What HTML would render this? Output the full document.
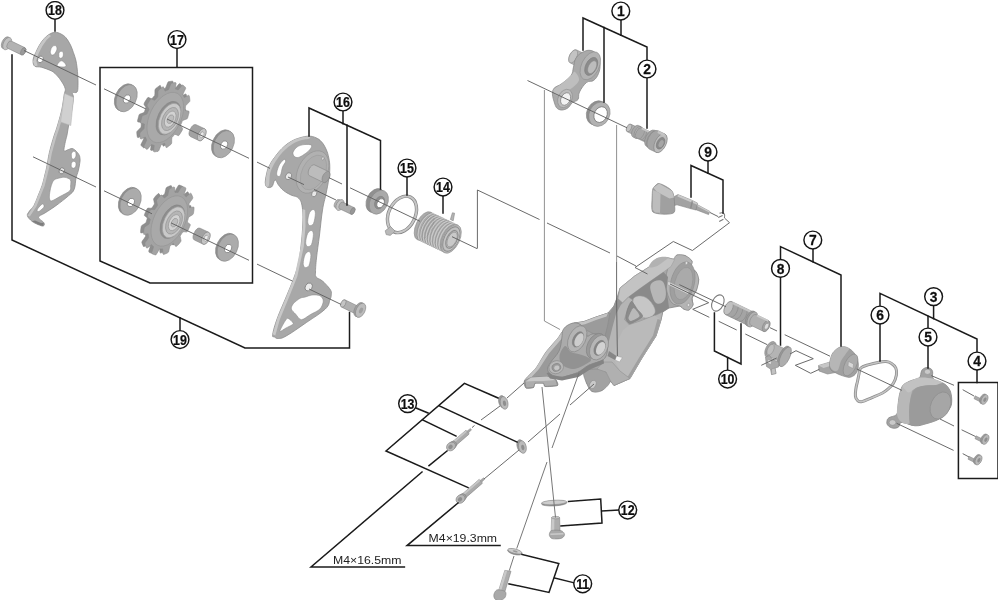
<!DOCTYPE html>
<html lang="en"><head><meta charset="utf-8"><title>Rear derailleur exploded view</title>
<style>html,body{margin:0;padding:0;background:#fff}body{width:1000px;height:600px;overflow:hidden}svg{display:block}</style>
</head><body>
<svg width="1000" height="600" viewBox="0 0 1000 600">
<defs>
<filter id="soft" x="0" y="0" width="100%" height="100%"><feGaussianBlur stdDeviation="0.45"/></filter>
<linearGradient id="gA" x1="0" y1="0" x2="1" y2="1"><stop offset="0" stop-color="#c4c4c4"/><stop offset="1" stop-color="#9a9a9a"/></linearGradient>
<linearGradient id="gB" x1="0" y1="0" x2="1" y2="0"><stop offset="0" stop-color="#b9b9b9"/><stop offset="1" stop-color="#8f8f8f"/></linearGradient>
<linearGradient id="gC" x1="0" y1="0" x2="0" y2="1"><stop offset="0" stop-color="#c9c9c9"/><stop offset="1" stop-color="#8c8c8c"/></linearGradient>
</defs>

<rect width="1000" height="600" fill="#fff"/>
<g filter="url(#soft)">
<g id="thin-under" fill="none" stroke="#858585" stroke-width="0.9"><path d="M544.4,90.0 L544.4,321.0 L560.0,329.5"/><path d="M616.6,125.0 L616.6,262.0"/></g>
<g id="parts"><path d="M55.0,32.3 C57.2,32.2 59.0,33.0 61.0,34.0 C63.0,35.0 64.3,35.8 66.0,37.8 C67.7,39.8 69.1,42.3 70.5,45.0 C71.9,47.7 72.4,49.8 73.4,52.5 C74.4,55.2 75.1,57.3 75.8,60.0 C76.5,62.7 76.6,64.3 77.0,67.2 C77.4,70.1 77.6,72.6 77.8,76.0 C78.0,79.4 78.1,82.6 78.0,85.5 C77.9,88.4 78.0,90.6 77.0,92.0 C76.0,93.4 73.2,91.8 72.5,93.0 C71.8,94.2 73.7,94.1 73.4,98.4 C73.1,102.7 71.5,111.8 70.6,116.7 C69.7,121.6 69.4,121.6 68.7,125.0 C68.0,128.4 67.7,131.6 67.0,135.0 C66.3,138.4 65.5,140.4 65.0,143.3 C64.5,146.2 63.5,149.9 64.1,151.0 C64.7,152.1 66.8,149.9 68.5,149.5 C70.2,149.1 71.4,148.0 73.3,148.9 C75.2,149.8 77.6,152.5 78.8,154.4 C80.0,156.3 79.8,157.3 80.0,159.0 C80.2,160.7 80.0,161.3 79.7,163.5 C79.4,165.7 78.9,168.3 78.2,171.0 C77.5,173.7 76.7,174.9 76.0,178.2 C75.3,181.5 75.5,186.0 74.2,189.2 C72.9,192.4 72.1,192.6 68.7,195.6 C65.3,198.6 60.3,202.5 55.9,205.7 C51.5,208.9 48.1,210.9 44.9,213.0 C41.7,215.1 38.7,215.4 38.5,217.2 C38.3,219.0 43.0,221.2 43.9,222.8 C44.8,224.4 44.3,225.7 43.2,226.0 C42.1,226.3 40.1,225.4 38.0,224.5 C35.9,223.6 33.9,222.9 32.0,221.3 C30.1,219.7 27.9,217.7 27.4,215.8 C26.9,213.9 28.3,212.9 29.5,211.0 C30.7,209.1 32.3,208.4 33.9,205.7 C35.5,202.9 36.5,199.7 38.0,196.0 C39.5,192.3 40.9,189.2 42.1,185.5 C43.3,181.8 43.8,179.4 44.6,176.0 C45.4,172.6 45.8,171.5 46.7,167.2 C47.6,162.9 48.1,158.2 49.4,152.5 C50.7,146.8 52.6,140.5 54.0,136.0 C55.4,131.5 55.4,132.4 56.8,127.8 C58.2,123.2 60.1,117.1 61.5,111.0 C62.9,104.9 63.5,98.9 64.2,94.7 C64.9,90.5 65.8,91.0 65.1,88.3 C64.4,85.6 62.3,82.5 60.6,80.0 C58.9,77.5 57.7,76.2 56.0,74.5 C54.3,72.8 54.1,72.2 51.4,70.9 C48.7,69.6 44.3,68.0 41.3,67.2 C38.3,66.4 36.4,67.3 34.9,66.3 C33.4,65.3 33.2,63.4 33.0,61.7 C32.8,60.0 33.3,58.7 33.8,57.0 C34.3,55.3 34.8,54.7 35.8,52.5 C36.8,50.3 38.0,47.5 39.5,45.0 C41.0,42.5 42.3,40.7 44.0,38.8 C45.7,36.9 47.0,35.7 49.0,34.5 C51.0,33.3 52.8,32.4 55.0,32.3Z" fill="#a7a7a7" stroke="#8b8b8b" stroke-width="0.8" stroke-linejoin="round" />
<path d="M49.0,34.5 L44.0,38.8 L39.5,45.0 L35.8,52.5 L33.0,61.7 L34.9,66.3 L37.6,65.6 L36.2,60.5 L38.6,53.5 L42.4,46.0 L46.6,40.0 L51.0,36.0Z" fill="#c6c6c6" stroke="none" stroke-width="0.6" stroke-linejoin="round" />
<path d="M64.2,94.7 L61.5,111.0 L56.8,127.8 L54.0,136.0 L49.4,152.5 L46.7,167.2 L42.1,185.5 L33.9,205.7 L27.4,215.8 L29.8,216.6 L36.4,206.5 L44.6,186.0 L49.2,167.5 L51.9,153.0 L56.5,136.6 L59.3,128.3 L64.0,111.4 L66.5,95.3Z" fill="#c3c3c3" stroke="none" stroke-width="0.6" stroke-linejoin="round" />
<path d="M64.6,93.4 L73.6,97.6 L70.8,125.5 L60.6,122.0Z" fill="#d0d0d0" stroke="#b5b5b5" stroke-width="0.5" stroke-linejoin="round" />
<ellipse cx="40.4" cy="59.4" rx="2.7" ry="3.5" transform="rotate(26 40.4 59.4)" fill="#fff" stroke="#7d7d7d" stroke-width="0.8" />
<path d="M52.2,47.0 C53.2,45.9 53.4,45.5 54.6,45.6 C55.8,45.7 56.4,45.5 56.8,47.2 C57.2,48.9 57.0,49.7 56.0,51.8 C55.0,53.9 54.4,54.6 53.0,55.0 C51.6,55.4 51.2,54.8 50.6,53.4 C50.0,52.0 50.4,51.3 50.8,49.6 C51.2,47.9 51.2,48.1 52.2,47.0Z" fill="#fff" stroke="#8a8a8a" stroke-width="0.6" stroke-linejoin="round" />
<path d="M59.6,52.0 C60.5,51.1 61.2,51.1 62.2,51.6 C63.2,52.1 63.4,52.4 63.4,54.0 C63.4,55.6 63.2,56.6 62.2,57.6 C61.2,58.6 60.5,58.5 59.6,57.8 C58.7,57.1 58.8,56.5 58.8,55.0 C58.8,53.5 58.7,52.9 59.6,52.0Z" fill="#fff" stroke="#8a8a8a" stroke-width="0.6" stroke-linejoin="round" />
<path d="M60.6,61.0 C62.0,60.4 63.1,61.4 64.2,62.4 C65.3,63.4 66.4,65.1 66.0,66.0 C65.6,66.9 63.8,67.1 62.0,67.0 C60.2,66.9 57.5,66.8 57.2,65.6 C56.9,64.4 59.2,61.6 60.6,61.0Z" fill="#fff" stroke="#8a8a8a" stroke-width="0.6" stroke-linejoin="round" />
<path d="M72.2,152.2 C73.1,151.1 73.8,151.1 74.8,151.6 C75.8,152.1 75.9,152.3 76.0,154.0 C76.1,155.7 76.0,156.7 75.0,158.0 C74.0,159.3 73.4,159.4 72.4,158.8 C71.4,158.2 71.5,157.4 71.4,155.6 C71.3,153.8 71.3,153.3 72.2,152.2Z" fill="#fff" stroke="#8a8a8a" stroke-width="0.6" stroke-linejoin="round" />
<path d="M72.2,162.0 C73.2,161.1 74.0,161.1 75.0,161.8 C76.0,162.5 76.1,163.0 76.0,164.6 C75.9,166.2 75.7,167.0 74.6,167.8 C73.5,168.6 72.9,168.3 72.0,167.6 C71.1,166.9 71.1,166.5 71.2,165.0 C71.3,163.5 71.2,162.9 72.2,162.0Z" fill="#fff" stroke="#8a8a8a" stroke-width="0.6" stroke-linejoin="round" />
<ellipse cx="61.8" cy="170.8" rx="2.6" ry="3.2" transform="rotate(26 61.8 170.8)" fill="#e4e4e4" stroke="#7d7d7d" stroke-width="0.8" />
<path d="M54.0,180.0 C55.2,178.9 57.9,178.4 59.5,178.0 C61.1,177.6 63.4,177.0 65.0,177.3 C66.7,177.6 69.7,178.7 70.5,180.0 C71.3,181.3 70.7,184.3 70.6,186.0 C70.5,187.7 71.2,189.4 69.6,191.0 C68.0,192.6 62.7,195.0 60.0,196.5 C57.3,198.0 52.9,200.8 51.3,201.0 C49.7,201.2 49.6,199.0 49.4,197.5 C49.2,196.0 49.7,192.8 50.0,191.0 C50.3,189.2 50.7,187.2 51.3,185.5 C51.9,183.8 52.8,181.1 54.0,180.0Z" fill="#fff" stroke="#8a8a8a" stroke-width="0.6" stroke-linejoin="round" />
<path d="M40.3,205.7 C41.5,204.5 42.3,203.8 43.0,204.0 C43.7,204.2 44.3,205.6 44.0,206.7 C43.7,207.8 42.6,208.5 41.5,209.5 C40.4,210.5 39.3,211.5 38.4,211.6 C37.5,211.7 36.8,211.0 37.2,209.8 C37.6,208.6 39.1,206.9 40.3,205.7Z" fill="#fff" stroke="#8a8a8a" stroke-width="0.6" stroke-linejoin="round" />
<path d="M32.0,221.3 L38.0,224.5 L43.2,226.0 L43.9,222.8 L41.0,223.0 L35.0,220.5Z" fill="#7e7e7e" stroke="none" stroke-width="0.6" stroke-linejoin="round" />
<ellipse cx="5.6" cy="42.8" rx="3.6" ry="6.4" transform="rotate(26 5.6 42.8)" fill="#a9a9a9" stroke="#8a8a8a" stroke-width="0.6" />
<ellipse cx="7.2" cy="43.6" rx="3.8" ry="6.6" transform="rotate(26 7.2 43.6)" fill="#c1c1c1" stroke="#8a8a8a" stroke-width="0.6" />
<path d="M11.3,41.1 L25.0,47.7 A2.2,4.0 26 0 1 21.5,54.9 L7.7,48.3 A2.2,4.0 26 0 1 11.3,41.1Z" fill="#b2b2b2" stroke="#858585" stroke-width="0.6" stroke-linejoin="round" />
<ellipse cx="23.2" cy="51.3" rx="2.2" ry="4.0" transform="rotate(26 23.2 51.3)" fill="#9a9a9a" stroke="#858585" stroke-width="0.6" />
<ellipse cx="125.0" cy="97.4" rx="9.6" ry="14.4" transform="rotate(26 125.0 97.4)" fill="#8f8f8f" stroke="#858585" stroke-width="0.6" />
<ellipse cx="126.6" cy="98.2" rx="9.6" ry="14.4" transform="rotate(26 126.6 98.2)" fill="#ababab" stroke="#8a8a8a" stroke-width="0.6" />
<ellipse cx="126.9" cy="99.0" rx="3.2" ry="4.4" transform="rotate(26 126.9 99.0)" fill="#fff" stroke="#7c7c7c" stroke-width="0.7" />
<path d="M177.6,123.5 L178.3,125.1 L179.6,127.1 L179.4,128.4 L178.8,129.5 L178.2,130.5 L177.6,131.5 L176.9,132.5 L176.3,133.5 L175.5,134.3 L173.6,133.5 L172.0,132.7 L171.3,133.4 L170.7,134.1 L170.1,134.8 L169.5,135.5 L168.9,136.1 L168.7,138.3 L168.7,141.5 L168.1,142.8 L167.3,143.5 L166.4,144.2 L165.6,144.8 L164.8,145.4 L164.0,146.0 L163.2,146.2 L162.3,143.9 L161.6,141.9 L160.9,142.1 L160.2,142.5 L159.5,142.8 L158.9,143.0 L158.2,143.3 L157.2,145.6 L155.9,149.0 L155.0,150.0 L154.2,150.1 L153.4,150.2 L152.7,150.3 L151.9,150.4 L151.1,150.4 L150.5,150.0 L150.9,146.9 L151.2,144.1 L150.7,143.8 L150.1,143.7 L149.6,143.5 L149.0,143.3 L148.5,143.1 L147.0,144.8 L144.7,147.6 L143.8,148.0 L143.2,147.5 L142.6,147.1 L142.1,146.6 L141.6,146.0 L141.1,145.5 L140.9,144.6 L142.4,141.5 L143.7,138.7 L143.4,138.0 L143.1,137.4 L142.9,136.8 L142.6,136.2 L142.4,135.6 L140.7,136.3 L138.1,137.7 L137.4,137.3 L137.2,136.4 L137.0,135.5 L136.9,134.6 L136.8,133.6 L136.7,132.7 L136.9,131.5 L139.1,129.2 L141.0,127.2 L141.1,126.3 L141.2,125.4 L141.2,124.5 L141.3,123.6 L141.4,122.7 L140.1,122.3 L137.8,121.9 L137.5,120.9 L137.7,119.8 L138.0,118.7 L138.3,117.6 L138.6,116.4 L138.9,115.3 L139.5,114.2 L141.9,113.3 L143.9,112.6 L144.4,111.7 L144.7,110.8 L145.1,109.9 L145.5,109.0 L146.0,108.1 L145.3,106.5 L144.0,104.5 L144.2,103.2 L144.8,102.1 L145.4,101.1 L146.0,100.1 L146.7,99.1 L147.3,98.1 L148.1,97.3 L150.0,98.1 L151.6,98.9 L152.3,98.2 L152.9,97.5 L153.5,96.8 L154.1,96.1 L154.7,95.5 L154.9,93.3 L154.9,90.1 L155.5,88.8 L156.3,88.1 L157.2,87.4 L158.0,86.8 L158.8,86.2 L159.6,85.6 L160.4,85.4 L161.3,87.7 L162.0,89.7 L162.7,89.5 L163.4,89.1 L164.1,88.8 L164.7,88.6 L165.4,88.3 L166.4,86.0 L167.7,82.6 L168.6,81.6 L169.4,81.5 L170.2,81.4 L170.9,81.3 L171.7,81.2 L172.5,81.2 L173.1,81.6 L172.7,84.7 L172.4,87.5 L172.9,87.8 L173.5,87.9 L174.0,88.1 L174.6,88.3 L175.1,88.5 L176.6,86.8 L178.9,84.0 L179.8,83.6 L180.4,84.1 L181.0,84.5 L181.5,85.0 L182.0,85.6 L182.5,86.1 L182.7,87.0 L181.2,90.1 L179.9,92.9 L180.2,93.6 L180.5,94.2 L180.7,94.8 L181.0,95.4 L181.2,96.0 L182.9,95.3 L185.5,93.9 L186.2,94.3 L186.4,95.2 L186.6,96.1 L186.7,97.0 L186.8,98.0 L186.9,98.9 L186.7,100.1 L184.5,102.4 L182.6,104.4 L182.5,105.3 L182.4,106.2 L182.4,107.1 L182.3,108.0 L182.2,108.9 L183.5,109.3 L185.8,109.7 L186.1,110.7 L185.9,111.8 L185.6,112.9 L185.3,114.0 L185.0,115.2 L184.7,116.3 L184.1,117.4 L181.7,118.3 L179.7,119.0 L179.2,119.9 L178.9,120.8 L178.5,121.7 L178.1,122.6Z" fill="#8e8e8e" stroke="#7f7f7f" stroke-width="0.5" stroke-linejoin="round" />
<path d="M180.6,124.9 L181.3,126.5 L182.6,128.5 L182.4,129.8 L181.8,130.9 L181.2,131.9 L180.6,132.9 L179.9,133.9 L179.3,134.9 L178.5,135.7 L176.6,134.9 L175.0,134.1 L174.3,134.8 L173.7,135.5 L173.1,136.2 L172.5,136.9 L171.9,137.5 L171.7,139.7 L171.7,142.9 L171.1,144.2 L170.3,144.9 L169.4,145.6 L168.6,146.2 L167.8,146.8 L167.0,147.4 L166.2,147.6 L165.3,145.3 L164.6,143.3 L163.9,143.5 L163.2,143.9 L162.5,144.2 L161.9,144.4 L161.2,144.7 L160.2,147.0 L158.9,150.4 L158.0,151.4 L157.2,151.5 L156.4,151.6 L155.7,151.7 L154.9,151.8 L154.1,151.8 L153.5,151.4 L153.9,148.3 L154.2,145.5 L153.7,145.2 L153.1,145.1 L152.6,144.9 L152.0,144.7 L151.5,144.5 L150.0,146.2 L147.7,149.0 L146.8,149.4 L146.2,148.9 L145.6,148.5 L145.1,148.0 L144.6,147.4 L144.1,146.9 L143.9,146.0 L145.4,142.9 L146.7,140.1 L146.4,139.4 L146.1,138.8 L145.9,138.2 L145.6,137.6 L145.4,137.0 L143.7,137.7 L141.1,139.1 L140.4,138.7 L140.2,137.8 L140.0,136.9 L139.9,136.0 L139.8,135.0 L139.7,134.1 L139.9,132.9 L142.1,130.6 L144.0,128.6 L144.1,127.7 L144.2,126.8 L144.2,125.9 L144.3,125.0 L144.4,124.1 L143.1,123.7 L140.8,123.3 L140.5,122.3 L140.7,121.2 L141.0,120.1 L141.3,119.0 L141.6,117.8 L141.9,116.7 L142.5,115.6 L144.9,114.7 L146.9,114.0 L147.4,113.1 L147.7,112.2 L148.1,111.3 L148.5,110.4 L149.0,109.5 L148.3,107.9 L147.0,105.9 L147.2,104.6 L147.8,103.5 L148.4,102.5 L149.0,101.5 L149.7,100.5 L150.3,99.5 L151.1,98.7 L153.0,99.5 L154.6,100.3 L155.3,99.6 L155.9,98.9 L156.5,98.2 L157.1,97.5 L157.7,96.9 L157.9,94.7 L157.9,91.5 L158.5,90.2 L159.3,89.5 L160.2,88.8 L161.0,88.2 L161.8,87.6 L162.6,87.0 L163.4,86.8 L164.3,89.1 L165.0,91.1 L165.7,90.9 L166.4,90.5 L167.1,90.2 L167.7,90.0 L168.4,89.7 L169.4,87.4 L170.7,84.0 L171.6,83.0 L172.4,82.9 L173.2,82.8 L173.9,82.7 L174.7,82.6 L175.5,82.6 L176.1,83.0 L175.7,86.1 L175.4,88.9 L175.9,89.2 L176.5,89.3 L177.0,89.5 L177.6,89.7 L178.1,89.9 L179.6,88.2 L181.9,85.4 L182.8,85.0 L183.4,85.5 L184.0,85.9 L184.5,86.4 L185.0,87.0 L185.5,87.5 L185.7,88.4 L184.2,91.5 L182.9,94.3 L183.2,95.0 L183.5,95.6 L183.7,96.2 L184.0,96.8 L184.2,97.4 L185.9,96.7 L188.5,95.3 L189.2,95.7 L189.4,96.6 L189.6,97.5 L189.7,98.4 L189.8,99.4 L189.9,100.3 L189.7,101.5 L187.5,103.8 L185.6,105.8 L185.5,106.7 L185.4,107.6 L185.4,108.5 L185.3,109.4 L185.2,110.3 L186.5,110.7 L188.8,111.1 L189.1,112.1 L188.9,113.2 L188.6,114.3 L188.3,115.4 L188.0,116.6 L187.7,117.7 L187.1,118.8 L184.7,119.7 L182.7,120.4 L182.2,121.3 L181.9,122.2 L181.5,123.1 L181.1,124.0Z" fill="#a3a3a3" stroke="#8a8a8a" stroke-width="0.6" stroke-linejoin="round" />
<ellipse cx="165.3" cy="117.5" rx="15.6" ry="27.0" transform="rotate(26 165.3 117.5)" fill="#a9a9a9" stroke="#959595" stroke-width="0.6" />
<ellipse cx="168.4" cy="118.2" rx="10.6" ry="18.0" transform="rotate(26 168.4 118.2)" fill="#8d8d8d" stroke="#858585" stroke-width="0.5" />
<ellipse cx="169.6" cy="118.8" rx="9.6" ry="16.6" transform="rotate(26 169.6 118.8)" fill="#c9c9c9" stroke="#9d9d9d" stroke-width="0.6" />
<ellipse cx="170.0" cy="119.0" rx="7.2" ry="12.4" transform="rotate(26 170.0 119.0)" fill="#b5b5b5" stroke="#909090" stroke-width="0.6" />
<ellipse cx="170.2" cy="119.1" rx="5.0" ry="8.6" transform="rotate(26 170.2 119.1)" fill="#d2d2d2" stroke="#959595" stroke-width="0.6" />
<ellipse cx="170.4" cy="119.2" rx="2.8" ry="4.6" transform="rotate(26 170.4 119.2)" fill="#bdbdbd" stroke="#8a8a8a" stroke-width="0.5" />
<path d="M196.1,124.7 L204.7,128.8 A3.6,6.6 26 0 1 198.9,140.6 L190.3,136.5 A3.6,6.6 26 0 1 196.1,124.7Z" fill="#a2a2a2" stroke="#858585" stroke-width="0.6" stroke-linejoin="round" />
<ellipse cx="201.8" cy="134.7" rx="3.6" ry="6.6" transform="rotate(26 201.8 134.7)" fill="#c6c6c6" stroke="#858585" stroke-width="0.6" />
<ellipse cx="202.0" cy="134.8" rx="1.9" ry="3.2" transform="rotate(19 202.0 134.8)" fill="#e9e9e9" stroke="#888" stroke-width="0.5" />
<ellipse cx="222.2" cy="143.4" rx="9.6" ry="14.4" transform="rotate(26 222.2 143.4)" fill="#8f8f8f" stroke="#858585" stroke-width="0.6" />
<ellipse cx="223.8" cy="144.2" rx="9.6" ry="14.4" transform="rotate(26 223.8 144.2)" fill="#ababab" stroke="#8a8a8a" stroke-width="0.6" />
<ellipse cx="224.1" cy="145.0" rx="3.2" ry="4.4" transform="rotate(26 224.1 145.0)" fill="#fff" stroke="#7c7c7c" stroke-width="0.7" />
<ellipse cx="129.0" cy="200.9" rx="9.6" ry="14.4" transform="rotate(26 129.0 200.9)" fill="#8f8f8f" stroke="#858585" stroke-width="0.6" />
<ellipse cx="130.6" cy="201.7" rx="9.6" ry="14.4" transform="rotate(26 130.6 201.7)" fill="#ababab" stroke="#8a8a8a" stroke-width="0.6" />
<ellipse cx="130.9" cy="202.5" rx="3.2" ry="4.4" transform="rotate(26 130.9 202.5)" fill="#fff" stroke="#7c7c7c" stroke-width="0.7" />
<path d="M185.1,228.7 L184.6,229.8 L183.6,230.6 L181.3,230.4 L179.8,230.5 L179.3,231.4 L178.7,232.2 L178.2,233.0 L177.7,233.8 L177.1,234.7 L177.6,237.0 L178.1,239.6 L177.4,240.7 L176.7,241.6 L176.0,242.5 L175.2,243.3 L174.4,244.1 L173.6,244.9 L172.7,245.0 L171.3,243.1 L170.3,242.0 L169.6,242.6 L168.9,243.1 L168.3,243.6 L167.6,244.0 L166.9,244.6 L166.3,247.4 L165.5,250.7 L164.7,251.4 L163.9,251.8 L163.0,252.2 L162.2,252.5 L161.4,252.8 L160.6,253.1 L159.9,252.5 L159.8,249.4 L159.6,247.5 L158.9,247.5 L158.3,247.6 L157.7,247.6 L157.1,247.6 L156.4,247.7 L154.9,250.4 L153.1,253.3 L152.2,253.5 L151.6,253.3 L150.9,253.1 L150.2,252.8 L149.6,252.6 L149.0,252.2 L148.7,251.1 L149.9,247.6 L150.5,245.3 L150.1,244.9 L149.7,244.5 L149.2,244.1 L148.9,243.6 L148.4,243.2 L146.4,245.0 L144.0,246.8 L143.4,246.4 L143.1,245.7 L142.7,245.0 L142.4,244.2 L142.1,243.4 L141.8,242.6 L142.1,241.2 L144.3,238.3 L145.6,236.2 L145.5,235.5 L145.4,234.7 L145.3,233.9 L145.2,233.1 L145.1,232.3 L143.1,232.7 L140.8,233.0 L140.6,232.1 L140.6,231.0 L140.7,229.9 L140.8,228.9 L141.0,227.8 L141.1,226.7 L141.8,225.4 L144.4,223.8 L146.1,222.6 L146.3,221.7 L146.5,220.7 L146.8,219.8 L147.1,218.9 L147.3,218.0 L145.9,216.8 L144.3,215.5 L144.5,214.3 L145.0,213.2 L145.5,212.1 L146.0,211.0 L146.5,209.9 L147.0,208.8 L148.0,208.0 L150.3,208.2 L151.8,208.1 L152.3,207.2 L152.9,206.4 L153.4,205.6 L153.9,204.8 L154.5,203.9 L154.0,201.6 L153.5,199.0 L154.2,197.9 L154.9,197.0 L155.6,196.1 L156.4,195.3 L157.2,194.5 L158.0,193.7 L158.9,193.6 L160.3,195.5 L161.3,196.6 L162.0,196.0 L162.7,195.5 L163.3,195.0 L164.0,194.6 L164.7,194.0 L165.3,191.2 L166.1,187.9 L166.9,187.2 L167.7,186.8 L168.6,186.4 L169.4,186.1 L170.2,185.8 L171.0,185.5 L171.7,186.1 L171.8,189.2 L172.0,191.1 L172.7,191.1 L173.3,191.0 L173.9,191.0 L174.5,191.0 L175.2,190.9 L176.7,188.2 L178.5,185.3 L179.4,185.1 L180.0,185.3 L180.7,185.5 L181.4,185.8 L182.0,186.0 L182.6,186.4 L182.9,187.5 L181.7,191.0 L181.1,193.3 L181.5,193.7 L181.9,194.1 L182.4,194.5 L182.7,195.0 L183.2,195.4 L185.2,193.6 L187.6,191.8 L188.2,192.2 L188.5,192.9 L188.9,193.6 L189.2,194.4 L189.5,195.2 L189.8,196.0 L189.5,197.4 L187.3,200.3 L186.0,202.4 L186.1,203.1 L186.2,203.9 L186.3,204.7 L186.4,205.5 L186.5,206.3 L188.5,205.9 L190.8,205.6 L191.0,206.5 L191.0,207.6 L190.9,208.7 L190.8,209.7 L190.6,210.8 L190.5,211.9 L189.8,213.2 L187.2,214.8 L185.5,216.0 L185.3,216.9 L185.1,217.9 L184.8,218.8 L184.5,219.7 L184.3,220.6 L185.7,221.8 L187.3,223.1 L187.1,224.3 L186.6,225.4 L186.1,226.5 L185.6,227.6Z" fill="#8e8e8e" stroke="#7f7f7f" stroke-width="0.5" stroke-linejoin="round" />
<path d="M188.1,230.1 L187.6,231.2 L186.6,232.0 L184.3,231.8 L182.8,231.9 L182.3,232.8 L181.7,233.6 L181.2,234.4 L180.7,235.2 L180.1,236.1 L180.6,238.4 L181.1,241.0 L180.4,242.1 L179.7,243.0 L179.0,243.9 L178.2,244.7 L177.4,245.5 L176.6,246.3 L175.7,246.4 L174.3,244.5 L173.3,243.4 L172.6,244.0 L171.9,244.5 L171.3,245.0 L170.6,245.4 L169.9,246.0 L169.3,248.8 L168.5,252.1 L167.7,252.8 L166.9,253.2 L166.0,253.6 L165.2,253.9 L164.4,254.2 L163.6,254.5 L162.9,253.9 L162.8,250.8 L162.6,248.9 L161.9,248.9 L161.3,249.0 L160.7,249.0 L160.1,249.0 L159.4,249.1 L157.9,251.8 L156.1,254.7 L155.2,254.9 L154.6,254.7 L153.9,254.5 L153.2,254.2 L152.6,254.0 L152.0,253.6 L151.7,252.5 L152.9,249.0 L153.5,246.7 L153.1,246.3 L152.7,245.9 L152.2,245.5 L151.9,245.0 L151.4,244.6 L149.4,246.4 L147.0,248.2 L146.4,247.8 L146.1,247.1 L145.7,246.4 L145.4,245.6 L145.1,244.8 L144.8,244.0 L145.1,242.6 L147.3,239.7 L148.6,237.6 L148.5,236.9 L148.4,236.1 L148.3,235.3 L148.2,234.5 L148.1,233.7 L146.1,234.1 L143.8,234.4 L143.6,233.5 L143.6,232.4 L143.7,231.3 L143.8,230.3 L144.0,229.2 L144.1,228.1 L144.8,226.8 L147.4,225.2 L149.1,224.0 L149.3,223.1 L149.5,222.1 L149.8,221.2 L150.1,220.3 L150.3,219.4 L148.9,218.2 L147.3,216.9 L147.5,215.7 L148.0,214.6 L148.5,213.5 L149.0,212.4 L149.5,211.3 L150.0,210.2 L151.0,209.4 L153.3,209.6 L154.8,209.5 L155.3,208.6 L155.9,207.8 L156.4,207.0 L156.9,206.2 L157.5,205.3 L157.0,203.0 L156.5,200.4 L157.2,199.3 L157.9,198.4 L158.6,197.5 L159.4,196.7 L160.2,195.9 L161.0,195.1 L161.9,195.0 L163.3,196.9 L164.3,198.0 L165.0,197.4 L165.7,196.9 L166.3,196.4 L167.0,196.0 L167.7,195.4 L168.3,192.6 L169.1,189.3 L169.9,188.6 L170.7,188.2 L171.6,187.8 L172.4,187.5 L173.2,187.2 L174.0,186.9 L174.7,187.5 L174.8,190.6 L175.0,192.5 L175.7,192.5 L176.3,192.4 L176.9,192.4 L177.5,192.4 L178.2,192.3 L179.7,189.6 L181.5,186.7 L182.4,186.5 L183.0,186.7 L183.7,186.9 L184.4,187.2 L185.0,187.4 L185.6,187.8 L185.9,188.9 L184.7,192.4 L184.1,194.7 L184.5,195.1 L184.9,195.5 L185.4,195.9 L185.7,196.4 L186.2,196.8 L188.2,195.0 L190.6,193.2 L191.2,193.6 L191.5,194.3 L191.9,195.0 L192.2,195.8 L192.5,196.6 L192.8,197.4 L192.5,198.8 L190.3,201.7 L189.0,203.8 L189.1,204.5 L189.2,205.3 L189.3,206.1 L189.4,206.9 L189.5,207.7 L191.5,207.3 L193.8,207.0 L194.0,207.9 L194.0,209.0 L193.9,210.1 L193.8,211.1 L193.6,212.2 L193.5,213.3 L192.8,214.6 L190.2,216.2 L188.5,217.4 L188.3,218.3 L188.1,219.3 L187.8,220.2 L187.5,221.1 L187.3,222.0 L188.7,223.2 L190.3,224.5 L190.1,225.7 L189.6,226.8 L189.1,227.9 L188.6,229.0Z" fill="#a3a3a3" stroke="#8a8a8a" stroke-width="0.6" stroke-linejoin="round" />
<ellipse cx="169.3" cy="221.0" rx="15.6" ry="27.0" transform="rotate(26 169.3 221.0)" fill="#a9a9a9" stroke="#959595" stroke-width="0.6" />
<ellipse cx="172.4" cy="221.7" rx="10.6" ry="18.0" transform="rotate(26 172.4 221.7)" fill="#8d8d8d" stroke="#858585" stroke-width="0.5" />
<ellipse cx="173.6" cy="222.3" rx="9.6" ry="16.6" transform="rotate(26 173.6 222.3)" fill="#c9c9c9" stroke="#9d9d9d" stroke-width="0.6" />
<ellipse cx="174.0" cy="222.5" rx="7.2" ry="12.4" transform="rotate(26 174.0 222.5)" fill="#b5b5b5" stroke="#909090" stroke-width="0.6" />
<ellipse cx="174.2" cy="222.6" rx="5.0" ry="8.6" transform="rotate(26 174.2 222.6)" fill="#d2d2d2" stroke="#959595" stroke-width="0.6" />
<ellipse cx="174.4" cy="222.7" rx="2.8" ry="4.6" transform="rotate(26 174.4 222.7)" fill="#bdbdbd" stroke="#8a8a8a" stroke-width="0.5" />
<path d="M200.1,228.2 L208.7,232.3 A3.6,6.6 26 0 1 202.9,244.1 L194.3,240.0 A3.6,6.6 26 0 1 200.1,228.2Z" fill="#a2a2a2" stroke="#858585" stroke-width="0.6" stroke-linejoin="round" />
<ellipse cx="205.8" cy="238.2" rx="3.6" ry="6.6" transform="rotate(26 205.8 238.2)" fill="#c6c6c6" stroke="#858585" stroke-width="0.6" />
<ellipse cx="206.0" cy="238.3" rx="1.9" ry="3.2" transform="rotate(19 206.0 238.3)" fill="#e9e9e9" stroke="#888" stroke-width="0.5" />
<ellipse cx="226.2" cy="246.9" rx="9.6" ry="14.4" transform="rotate(26 226.2 246.9)" fill="#8f8f8f" stroke="#858585" stroke-width="0.6" />
<ellipse cx="227.8" cy="247.7" rx="9.6" ry="14.4" transform="rotate(26 227.8 247.7)" fill="#ababab" stroke="#8a8a8a" stroke-width="0.6" />
<ellipse cx="228.1" cy="248.5" rx="3.2" ry="4.4" transform="rotate(26 228.1 248.5)" fill="#fff" stroke="#7c7c7c" stroke-width="0.7" />
<path d="M265.5,185.0 C264.6,182.0 266.1,176.1 267.0,172.0 C267.9,167.9 268.5,167.4 270.0,164.5 C271.5,161.6 272.1,160.7 274.5,157.5 C276.9,154.3 278.7,151.7 282.0,148.5 C285.3,145.3 287.4,143.6 291.0,141.5 C294.6,139.4 296.4,138.9 300.0,137.8 C303.6,136.7 305.8,136.2 309.0,136.2 C312.2,136.2 313.5,136.7 316.0,137.8 C318.5,138.9 319.5,139.6 321.5,141.8 C323.5,144.0 324.5,145.8 326.0,149.0 C327.5,152.2 328.0,154.2 328.8,158.0 C329.6,161.8 329.8,163.8 329.8,168.0 C329.8,172.2 329.6,173.8 328.8,179.0 C328.0,184.2 327.3,187.8 326.0,194.0 C324.7,200.2 323.8,201.8 322.5,210.0 C321.2,218.2 320.7,225.4 319.5,235.0 C318.3,244.6 317.3,250.6 316.5,258.0 C315.7,265.4 315.6,268.2 315.5,272.0 C315.4,275.8 315.1,275.4 316.2,277.0 C317.3,278.6 319.2,278.7 321.0,280.0 C322.8,281.3 323.4,281.6 325.3,283.7 C327.2,285.8 329.5,288.0 330.7,290.3 C331.9,292.6 331.3,293.1 331.2,295.0 C331.1,296.9 331.2,296.9 330.0,299.7 C328.8,302.5 330.0,304.5 325.3,309.0 C320.6,313.5 314.4,317.0 306.7,322.3 C299.0,327.6 292.3,332.5 286.7,335.7 C281.1,338.9 281.1,338.2 278.7,338.5 C276.3,338.8 275.7,337.8 274.5,337.0 C273.3,336.2 272.1,338.0 272.7,334.3 C273.3,330.6 274.5,326.0 277.3,318.3 C280.1,310.6 283.2,304.2 286.7,295.7 C290.2,287.2 292.3,282.4 294.7,275.7 C297.1,269.0 297.4,267.9 298.7,262.0 C300.0,256.1 300.2,253.2 301.0,246.0 C301.8,238.8 302.4,233.4 302.7,226.0 C303.0,218.6 303.2,214.5 302.5,209.0 C301.8,203.5 301.3,201.3 299.0,198.5 C296.7,195.7 294.1,196.6 291.0,195.0 C287.9,193.4 286.0,192.5 283.5,190.5 C281.0,188.5 280.2,187.1 278.5,185.0 C276.8,182.9 276.4,179.6 275.0,180.0 C273.6,180.4 273.4,186.0 271.5,187.0 C269.6,188.0 266.4,188.0 265.5,185.0Z" fill="#a8a8a8" stroke="#8a8a8a" stroke-width="0.8" stroke-linejoin="round" />
<path d="M265.5,185.0 C265.2,182.7 266.2,175.4 267.0,172.0 C267.8,168.6 268.8,166.9 270.0,164.5 C271.2,162.1 272.5,160.2 274.5,157.5 C276.5,154.8 279.2,151.2 282.0,148.5 C284.8,145.8 288.0,143.3 291.0,141.5 C294.0,139.7 297.0,138.7 300.0,137.8 C303.0,136.9 307.4,136.1 309.0,136.2 C310.6,136.3 310.8,137.7 309.5,138.4 C308.2,139.1 303.8,139.3 301.0,140.2 C298.2,141.1 295.3,142.2 292.5,144.0 C289.7,145.8 286.6,148.2 284.0,150.8 C281.4,153.4 278.9,156.9 277.0,159.5 C275.1,162.1 274.0,164.1 272.8,166.5 C271.6,168.9 270.7,170.8 270.0,174.0 C269.3,177.2 269.6,184.0 268.8,185.8 C268.1,187.6 265.8,187.3 265.5,185.0Z" fill="#c4c4c4" stroke="none" stroke-width="0.6" stroke-linejoin="round" />
<path d="M302.5,209.0 L302.7,226.0 L301.0,246.0 L294.7,275.7 L286.7,295.7 L277.3,318.3 L272.7,334.3 L275.3,335.5 L279.8,319.4 L289.2,296.8 L297.3,276.5 L303.8,246.5 L305.5,226.0 L305.2,210.0Z" fill="#c8c8c8" stroke="none" stroke-width="0.6" stroke-linejoin="round" />
<path d="M293.0,152.5 C293.4,150.9 295.2,148.3 297.0,147.0 C298.8,145.7 301.6,144.9 304.0,144.6 C306.4,144.3 310.6,144.3 311.5,145.2 C312.4,146.1 310.8,148.4 309.5,150.0 C308.2,151.6 305.8,153.3 304.0,154.5 C302.2,155.7 300.1,157.1 298.5,157.4 C296.9,157.8 295.4,157.4 294.5,156.6 C293.6,155.8 292.6,154.1 293.0,152.5Z" fill="#fff" stroke="#8c8c8c" stroke-width="0.6" stroke-linejoin="round" />
<path d="M276.8,172.0 C277.2,170.1 278.3,166.6 279.5,164.5 C280.7,162.4 283.0,160.0 284.0,159.5 C285.0,159.0 285.8,160.2 285.6,161.5 C285.4,162.8 283.5,164.7 282.6,167.0 C281.7,169.3 281.3,173.9 280.4,175.4 C279.5,176.9 278.0,176.6 277.4,176.0 C276.8,175.4 276.4,173.9 276.8,172.0Z" fill="#fff" stroke="#8c8c8c" stroke-width="0.6" stroke-linejoin="round" />
<ellipse cx="312.5" cy="172.0" rx="14.6" ry="22.5" transform="rotate(26 312.5 172.0)" fill="#b1b1b1" stroke="#939393" stroke-width="0.6" />
<ellipse cx="313.5" cy="172.5" rx="11.5" ry="18.5" transform="rotate(26 313.5 172.5)" fill="#adadad" stroke="#9a9a9a" stroke-width="0.5" />
<path d="M314.6,164.9 L328.6,171.6 A3.3,6.0 26 0 1 323.3,182.4 L309.4,175.7 A3.3,6.0 26 0 1 314.6,164.9Z" fill="#bcbcbc" stroke="#858585" stroke-width="0.6" stroke-linejoin="round" />
<ellipse cx="326.0" cy="177.0" rx="3.3" ry="6.0" transform="rotate(26 326.0 177.0)" fill="#a0a0a0" stroke="#858585" stroke-width="0.6" />
<ellipse cx="288.5" cy="176.2" rx="2.8" ry="3.6" transform="rotate(26 288.5 176.2)" fill="#e8e8e8" stroke="#7d7d7d" stroke-width="0.7" />
<ellipse cx="314.2" cy="193.8" rx="2.4" ry="3.1" transform="rotate(26 314.2 193.8)" fill="#e8e8e8" stroke="#7d7d7d" stroke-width="0.7" />
<ellipse cx="322.8" cy="158.5" rx="1.2" ry="1.6" transform="rotate(26 322.8 158.5)" fill="#ddd" stroke="#888" stroke-width="0.5" />
<path d="M313.3,209.5 C314.3,209.6 315.4,211.0 315.4,213.3 C315.4,215.6 314.5,221.5 313.5,223.5 C312.5,225.5 310.3,225.9 309.3,225.5 C308.3,225.1 307.7,223.4 307.7,221.3 C307.7,219.2 308.6,214.7 309.5,212.7 C310.4,210.7 312.3,209.4 313.3,209.5Z" fill="#fff" stroke="#8c8c8c" stroke-width="0.6" stroke-linejoin="round" />
<path d="M311.3,230.5 C312.3,230.6 313.4,232.0 313.4,234.3 C313.4,236.6 312.5,242.5 311.5,244.5 C310.5,246.5 308.3,246.9 307.3,246.5 C306.3,246.1 305.7,244.4 305.7,242.3 C305.7,240.2 306.6,235.7 307.5,233.7 C308.4,231.7 310.3,230.4 311.3,230.5Z" fill="#fff" stroke="#8c8c8c" stroke-width="0.6" stroke-linejoin="round" />
<path d="M308.8,251.5 C309.8,251.6 310.9,253.0 310.9,255.3 C310.9,257.6 310.0,263.5 309.0,265.5 C308.0,267.5 305.8,267.9 304.8,267.5 C303.8,267.1 303.2,265.4 303.2,263.3 C303.2,261.2 304.1,256.7 305.0,254.7 C305.9,252.7 307.8,251.4 308.8,251.5Z" fill="#fff" stroke="#8c8c8c" stroke-width="0.6" stroke-linejoin="round" />
<ellipse cx="308.7" cy="287.0" rx="3.3" ry="4.2" transform="rotate(26 308.7 287.0)" fill="#ececec" stroke="#7d7d7d" stroke-width="0.8" />
<path d="M293.3,303.7 C294.6,302.1 298.2,299.3 300.0,298.3 C301.8,297.3 303.5,297.5 305.3,297.0 C307.1,296.5 309.8,295.2 312.0,295.0 C314.2,294.8 318.3,294.8 320.0,295.7 C321.7,296.6 323.3,299.0 323.3,301.0 C323.3,303.0 321.9,307.0 320.0,309.0 C318.1,311.0 313.3,312.9 310.5,314.5 C307.7,316.1 303.6,319.8 301.3,319.7 C299.1,319.6 297.0,315.6 295.5,314.0 C294.0,312.4 291.6,310.5 291.3,309.0 C291.0,307.5 292.0,305.3 293.3,303.7Z" fill="#fff" stroke="#8c8c8c" stroke-width="0.6" stroke-linejoin="round" />
<path d="M287.3,318.3 C288.7,317.8 293.5,322.6 293.3,323.7 C293.1,324.8 287.6,327.1 286.0,328.0 C284.4,328.9 280.5,331.7 280.0,331.7 C279.5,331.7 280.4,329.3 281.3,327.7 C282.2,326.1 285.9,318.8 287.3,318.3Z" fill="#fff" stroke="#8c8c8c" stroke-width="0.6" stroke-linejoin="round" />
<ellipse cx="337.5" cy="203.8" rx="2.8" ry="4.6" transform="rotate(26 337.5 203.8)" fill="#b5b5b5" stroke="#858585" stroke-width="0.6" />
<ellipse cx="340.0" cy="205.0" rx="3.6" ry="5.8" transform="rotate(26 340.0 205.0)" fill="#c3c3c3" stroke="#858585" stroke-width="0.6" />
<path d="M342.6,202.1 L354.3,207.7 A2.0,3.7 26 0 1 351.1,214.3 L339.4,208.7 A2.0,3.7 26 0 1 342.6,202.1Z" fill="#adadad" stroke="#858585" stroke-width="0.6" stroke-linejoin="round" />
<ellipse cx="352.7" cy="211.0" rx="2.0" ry="3.7" transform="rotate(26 352.7 211.0)" fill="#979797" stroke="#858585" stroke-width="0.6" />
<path d="M345.3,300.0 L359.2,306.7 A2.2,4.0 26 0 1 355.7,313.9 L341.7,307.2 A2.2,4.0 26 0 1 345.3,300.0Z" fill="#b0b0b0" stroke="#858585" stroke-width="0.6" stroke-linejoin="round" />
<ellipse cx="343.3" cy="303.5" rx="2.3" ry="4.0" transform="rotate(26 343.3 303.5)" fill="#c4c4c4" stroke="#858585" stroke-width="0.6" />
<ellipse cx="359.0" cy="309.6" rx="4.4" ry="7.6" transform="rotate(26 359.0 309.6)" fill="#a1a1a1" stroke="#858585" stroke-width="0.6" />
<ellipse cx="360.6" cy="310.3" rx="4.4" ry="7.6" transform="rotate(26 360.6 310.3)" fill="#bcbcbc" stroke="#858585" stroke-width="0.6" />
<ellipse cx="361.0" cy="310.5" rx="1.8" ry="3.0" transform="rotate(26 361.0 310.5)" fill="#a0a0a0" stroke="none" stroke-width="0.6" />
<ellipse cx="375.6" cy="200.6" rx="8.8" ry="12.6" transform="rotate(26 375.6 200.6)" fill="#909090" stroke="#858585" stroke-width="0.6" />
<ellipse cx="378.8" cy="202.2" rx="8.8" ry="12.6" transform="rotate(26 378.8 202.2)" fill="#a9a9a9" stroke="#8a8a8a" stroke-width="0.6" />
<ellipse cx="379.6" cy="202.6" rx="4.6" ry="6.6" transform="rotate(26 379.6 202.6)" fill="#8d8d8d" stroke="#808080" stroke-width="0.6" />
<ellipse cx="380.6" cy="203.2" rx="3.3" ry="4.8" transform="rotate(26 380.6 203.2)" fill="#fff" stroke="#7c7c7c" stroke-width="0.7" />
<ellipse cx="402" cy="214.4" rx="13.2" ry="19.2" transform="rotate(26 402 214.4)" fill="none" stroke="#868686" stroke-width="3.4"/>
<ellipse cx="402" cy="214.4" rx="13.2" ry="19.2" transform="rotate(26 402 214.4)" fill="none" stroke="#c6c6c6" stroke-width="2.0"/>
<path d="M390.5,226.5 L385.2,230.8 L386.2,234.6 L390.2,235.4 L395.2,231.2Z" fill="#b9b9b9" stroke="#858585" stroke-width="0.6" stroke-linejoin="round" />
<path d="M431.0,212.2 L458.0,225.1 L444.5,252.8 L417.4,239.8Z" fill="#b3b3b3" stroke="none" stroke-width="0.6" stroke-linejoin="round" />
<ellipse cx="424.2" cy="226.0" rx="8.2" ry="15.4" transform="rotate(26 424.2 226.0)" fill="#ababab" stroke="#8c8c8c" stroke-width="0.6" />
<path d="M433.6,213.4 A8.2,15.4 26 0 0 420.1,241.1" fill="none" stroke="#969696" stroke-width="0.8"/>
<path d="M434.8,214.0 A8.2,15.4 26 0 0 421.3,241.7" fill="none" stroke="#cfcfcf" stroke-width="0.9"/>
<path d="M436.2,214.7 A8.2,15.4 26 0 0 422.7,242.3" fill="none" stroke="#969696" stroke-width="0.8"/>
<path d="M437.4,215.3 A8.2,15.4 26 0 0 423.9,243.0" fill="none" stroke="#cfcfcf" stroke-width="0.9"/>
<path d="M438.8,215.9 A8.2,15.4 26 0 0 425.3,243.6" fill="none" stroke="#969696" stroke-width="0.8"/>
<path d="M440.1,216.5 A8.2,15.4 26 0 0 426.6,244.2" fill="none" stroke="#cfcfcf" stroke-width="0.9"/>
<path d="M441.4,217.2 A8.2,15.4 26 0 0 427.9,244.9" fill="none" stroke="#969696" stroke-width="0.8"/>
<path d="M442.7,217.8 A8.2,15.4 26 0 0 429.2,245.5" fill="none" stroke="#cfcfcf" stroke-width="0.9"/>
<path d="M444.0,218.4 A8.2,15.4 26 0 0 430.5,246.1" fill="none" stroke="#969696" stroke-width="0.8"/>
<path d="M445.3,219.0 A8.2,15.4 26 0 0 431.8,246.7" fill="none" stroke="#cfcfcf" stroke-width="0.9"/>
<path d="M446.6,219.7 A8.2,15.4 26 0 0 433.1,247.4" fill="none" stroke="#969696" stroke-width="0.8"/>
<path d="M447.9,220.3 A8.2,15.4 26 0 0 434.4,248.0" fill="none" stroke="#cfcfcf" stroke-width="0.9"/>
<path d="M449.3,220.9 A8.2,15.4 26 0 0 435.8,248.6" fill="none" stroke="#969696" stroke-width="0.8"/>
<path d="M450.5,221.5 A8.2,15.4 26 0 0 437.0,249.2" fill="none" stroke="#cfcfcf" stroke-width="0.9"/>
<path d="M451.9,222.2 A8.2,15.4 26 0 0 438.4,249.9" fill="none" stroke="#969696" stroke-width="0.8"/>
<path d="M453.1,222.8 A8.2,15.4 26 0 0 439.6,250.5" fill="none" stroke="#cfcfcf" stroke-width="0.9"/>
<path d="M454.5,223.4 A8.2,15.4 26 0 0 441.0,251.1" fill="none" stroke="#969696" stroke-width="0.8"/>
<path d="M455.7,224.0 A8.2,15.4 26 0 0 442.2,251.7" fill="none" stroke="#cfcfcf" stroke-width="0.9"/>
<path d="M457.1,224.7 A8.2,15.4 26 0 0 443.6,252.4" fill="none" stroke="#969696" stroke-width="0.8"/>
<path d="M458.4,225.3 A8.2,15.4 26 0 0 444.9,253.0" fill="none" stroke="#cfcfcf" stroke-width="0.9"/>
<ellipse cx="451.3" cy="239.0" rx="8.2" ry="15.4" transform="rotate(26 451.3 239.0)" fill="#bababa" stroke="#8c8c8c" stroke-width="0.6" />
<ellipse cx="451.3" cy="239.0" rx="7.1" ry="13.2" transform="rotate(26 451.3 239.0)" fill="none" stroke="#8c8c8c" stroke-width="0.9" />
<ellipse cx="451.6" cy="239.2" rx="6.1" ry="11.4" transform="rotate(26 451.6 239.2)" fill="none" stroke="#c6c6c6" stroke-width="0.9" />
<ellipse cx="451.9" cy="239.4" rx="5.1" ry="9.5" transform="rotate(26 451.9 239.4)" fill="none" stroke="#8c8c8c" stroke-width="0.9" />
<ellipse cx="452.1" cy="239.5" rx="4.3" ry="8.0" transform="rotate(26 452.1 239.5)" fill="#c9c9c9" stroke="#8a8a8a" stroke-width="0.6" />
<path d="M450.4,219.5 L452.4,212.8 L454.6,213.2 L453.2,220.8Z" fill="#b4b4b4" stroke="#858585" stroke-width="0.6" stroke-linejoin="round" />
<path d="M576.7,50.0 L589.3,56.1 A4.0,7.2 26 0 1 583.0,69.0 L570.3,63.0 A4.0,7.2 26 0 1 576.7,50.0Z" fill="#b4b4b4" stroke="#8a8a8a" stroke-width="0.6" stroke-linejoin="round" />
<ellipse cx="573.2" cy="56.4" rx="3.6" ry="7.0" transform="rotate(26 573.2 56.4)" fill="#c3c3c3" stroke="#8e8e8e" stroke-width="0.6" />
<path d="M576.0,58.0 C577.9,55.0 580.0,53.5 583.0,52.0 C586.0,50.5 588.2,49.9 591.0,50.5 C593.8,51.1 595.2,52.3 597.0,55.0 C598.8,57.7 599.7,60.3 600.0,64.0 C600.3,67.7 599.8,70.2 598.5,73.5 C597.2,76.8 595.9,78.7 593.5,80.5 C591.1,82.3 589.3,80.2 586.5,82.5 C583.7,84.8 581.2,88.6 579.5,92.0 C577.8,95.4 579.4,97.4 578.0,99.5 C576.6,101.6 574.7,100.7 572.5,102.5 C570.3,104.3 569.7,107.1 567.0,108.5 C564.3,109.9 561.5,110.6 559.0,109.5 C556.5,108.4 555.7,106.9 554.5,103.0 C553.3,99.1 551.5,93.9 553.0,90.0 C554.5,86.1 558.4,86.4 562.0,83.5 C565.6,80.6 568.7,78.8 571.0,75.5 C573.3,72.2 572.5,70.5 573.5,67.0 C574.5,63.5 574.1,61.0 576.0,58.0Z" fill="#a9a9a9" stroke="#8a8a8a" stroke-width="0.8" stroke-linejoin="round" />
<path d="M553.5,90.0 C554.3,88.0 559.1,85.9 562.0,83.5 C564.9,81.1 568.8,77.4 571.0,75.5 C573.2,73.6 573.7,71.2 575.0,72.0 C576.3,72.8 579.5,77.3 579.0,80.0 C578.5,82.7 574.7,85.8 572.0,88.0 C569.3,90.2 565.5,91.8 563.0,93.0 C560.5,94.2 558.6,96.0 557.0,95.5 C555.4,95.0 552.7,92.0 553.5,90.0Z" fill="#bebebe" stroke="none" stroke-width="0.6" stroke-linejoin="round" />
<ellipse cx="590.3" cy="65.8" rx="8.8" ry="15.0" transform="rotate(26 590.3 65.8)" fill="#b3b3b3" stroke="#8e8e8e" stroke-width="0.6" />
<ellipse cx="591.2" cy="66.4" rx="5.6" ry="9.6" transform="rotate(26 591.2 66.4)" fill="#8b8b8b" stroke="#7e7e7e" stroke-width="0.6" />
<ellipse cx="592.2" cy="67.2" rx="3.8" ry="6.8" transform="rotate(26 592.2 67.2)" fill="#bcbcbc" stroke="#8a8a8a" stroke-width="0.4" />
<ellipse cx="565.0" cy="98.5" rx="6.8" ry="9.6" transform="rotate(26 565.0 98.5)" fill="#bbbbbb" stroke="#8e8e8e" stroke-width="0.6" />
<ellipse cx="565.6" cy="99.0" rx="4.6" ry="6.6" transform="rotate(26 565.6 99.0)" fill="#f2f2f2" stroke="#808080" stroke-width="0.7" />
<ellipse cx="597.0" cy="113.0" rx="10.2" ry="12.6" transform="rotate(26 597.0 113.0)" fill="#8f8f8f" stroke="#858585" stroke-width="0.6" />
<ellipse cx="599.4" cy="114.2" rx="10.2" ry="12.6" transform="rotate(26 599.4 114.2)" fill="#b2b2b2" stroke="#8a8a8a" stroke-width="0.6" />
<ellipse cx="600.6" cy="114.6" rx="6.4" ry="8.2" transform="rotate(26 600.6 114.6)" fill="#fff" stroke="#7c7c7c" stroke-width="0.8" />
<path d="M596.3,109 A6.4,8.2 {ROT} 0 0 598.5,121.6" fill="none" stroke="#9b9b9b" stroke-width="1.8"/>
<path d="M631.0,124.3 L636.9,127.1 A2.3,4.2 26 0 1 633.2,134.6 L627.4,131.8 A2.3,4.2 26 0 1 631.0,124.3Z" fill="#adadad" stroke="#858585" stroke-width="0.6" stroke-linejoin="round" />
<ellipse cx="629.0" cy="127.9" rx="2.3" ry="4.2" transform="rotate(26 629.0 127.9)" fill="#c2c2c2" stroke="#858585" stroke-width="0.6" />
<path d="M638.4,125.4 L641.1,126.7 A3.5,6.4 26 0 1 635.5,138.2 L632.8,136.9 A3.5,6.4 26 0 1 638.4,125.4Z" fill="#a8a8a8" stroke="#858585" stroke-width="0.6" stroke-linejoin="round" />
<ellipse cx="638.3" cy="132.4" rx="3.5" ry="6.4" transform="rotate(26 638.3 132.4)" fill="#b6b6b6" stroke="#858585" stroke-width="0.6" />
<path d="M641.5,127.7 L652.8,133.1 A3.1,5.7 26 0 1 647.8,143.3 L636.5,137.9 A3.1,5.7 26 0 1 641.5,127.7Z" fill="#a7a7a7" stroke="#858585" stroke-width="0.6" stroke-linejoin="round" />
<path d="M643.3,128.6 A3.1,5.7 26 0 1 638.3,138.8" fill="none" stroke="#8d8d8d" stroke-width="0.6"/>
<path d="M645.4,129.6 A3.1,5.7 26 0 1 640.4,139.8" fill="none" stroke="#8d8d8d" stroke-width="0.6"/>
<path d="M647.5,130.5 A3.1,5.7 26 0 1 642.5,140.7" fill="none" stroke="#8d8d8d" stroke-width="0.6"/>
<path d="M649.5,131.5 A3.1,5.7 26 0 1 644.5,141.7" fill="none" stroke="#8d8d8d" stroke-width="0.6"/>
<path d="M651.6,132.5 A3.1,5.7 26 0 1 646.6,142.7" fill="none" stroke="#8d8d8d" stroke-width="0.6"/>
<path d="M642.0,127.6 L652.8,132.8 L652.2,134.4 L641.4,129.2Z" fill="#c6c6c6" stroke="none" stroke-width="0.6" stroke-linejoin="round" />
<path d="M654.3,130.2 L656.7,131.4 A5.0,9.0 26 0 1 648.8,147.5 L646.5,146.4 A5.0,9.0 26 0 1 654.3,130.2Z" fill="#a3a3a3" stroke="#858585" stroke-width="0.6" stroke-linejoin="round" />
<ellipse cx="652.7" cy="139.4" rx="5.0" ry="9.0" transform="rotate(26 652.7 139.4)" fill="#b2b2b2" stroke="#858585" stroke-width="0.6" />
<path d="M658.1,130.7 L664.9,134.0 A5.6,10.2 26 0 1 656.0,152.3 L649.1,149.0 A5.6,10.2 26 0 1 658.1,130.7Z" fill="#a5a5a5" stroke="#858585" stroke-width="0.6" stroke-linejoin="round" />
<ellipse cx="660.5" cy="143.2" rx="5.6" ry="10.2" transform="rotate(26 660.5 143.2)" fill="#bcbcbc" stroke="#858585" stroke-width="0.6" />
<path d="M658.2,130.7 L665.1,134.0 L664.3,136.4 L657.4,133.1Z" fill="#c4c4c4" stroke="none" stroke-width="0.6" stroke-linejoin="round" />
<ellipse cx="660.6" cy="143.3" rx="3.7" ry="6.2" transform="rotate(26 660.6 143.3)" fill="#8a8a8a" stroke="#7d7d7d" stroke-width="0.6" />
<ellipse cx="661.1" cy="143.7" rx="2.2" ry="3.8" transform="rotate(26 661.1 143.7)" fill="#a6a6a6" stroke="none" stroke-width="0.6" />
<path d="M696.4,204.2 L709.8,211.4 L708.6,214.6 L695.2,209.4Z" fill="#a3a3a3" stroke="#858585" stroke-width="0.6" stroke-linejoin="round" />
<path d="M696.4,204.2 L709.8,211.4 L709.4,212.4 L696.0,205.6Z" fill="#cccccc" stroke="none" stroke-width="0.6" stroke-linejoin="round" />
<path d="M674.5,196.4 L678.0,194.6 L692.2,200.4 L697.6,203.2 L696.0,210.0 L690.4,208.6 L677.0,204.8 L674.0,205.6Z" fill="#a2a2a2" stroke="#858585" stroke-width="0.6" stroke-linejoin="round" />
<path d="M678.0,194.6 L692.2,200.4 L697.6,203.2 L697.2,204.8 L691.6,202.4 L677.4,196.6Z" fill="#c9c9c9" stroke="none" stroke-width="0.6" stroke-linejoin="round" />
<path d="M691.6,201.0 L693.0,201.6 L691.4,208.8 L690.0,208.4Z" fill="#8c8c8c" stroke="none" stroke-width="0.6" stroke-linejoin="round" />
<path d="M653.5,187.7 C654.1,186.8 655.1,185.7 656.0,185.0 C656.9,184.3 657.3,183.2 659.0,183.5 C660.7,183.8 663.8,185.2 666.0,186.5 C668.2,187.8 670.7,189.2 672.0,191.0 C673.3,192.8 673.6,195.2 674.0,197.5 C674.4,199.8 674.6,202.5 674.6,205.0 C674.6,207.5 675.5,211.0 674.0,212.5 C672.5,214.0 668.7,214.1 665.5,214.2 C662.3,214.3 657.2,213.8 655.0,213.0 C652.8,212.2 652.5,212.2 652.0,209.7 C651.5,207.2 652.0,201.2 652.1,198.0 C652.2,194.8 652.3,192.2 652.5,190.5 C652.7,188.8 652.9,188.6 653.5,187.7Z" fill="#a0a0a0" stroke="#858585" stroke-width="0.7" stroke-linejoin="round" />
<path d="M653.5,187.7 L659.0,183.5 L672.0,191.0 L674.0,197.5 L669.5,198.5 L656.5,191.5Z" fill="#c3c3c3" stroke="none" stroke-width="0.6" stroke-linejoin="round" />
<path d="M656.5,191.5 L660.5,193.7 L660.0,212.8 L655.0,212.5 L652.6,209.5 L652.8,190.0Z" fill="#bdbdbd" stroke="none" stroke-width="0.6" stroke-linejoin="round" />
<path d="M719.5,213.2 C723.5,211.6 725.8,214.4 724.4,218.2 M718.2,217.6 L722.6,215.6 M719.2,221.6 L723.4,219.2" fill="none" stroke="#7a7a7a" stroke-width="1.1"/>
<path d="M563.0,331.0 C561.0,332.6 560.0,335.6 558.0,338.0 C556.0,340.4 548.6,348.5 546.0,352.0 C543.4,355.5 538.5,364.7 536.0,368.0 C533.5,371.3 525.7,378.2 524.5,380.5 C523.3,382.8 525.0,387.2 526.0,388.0 C527.0,388.8 532.5,388.1 533.5,387.5 C534.5,386.9 533.8,383.7 535.0,383.2 C536.2,382.7 542.3,382.8 543.5,383.2 C544.7,383.6 543.4,386.2 545.0,386.5 C546.6,386.8 556.2,386.3 557.5,385.5 C558.8,384.7 557.0,381.2 556.0,380.0 C555.0,378.8 548.5,376.4 549.0,375.5 C549.5,374.6 557.0,374.4 560.0,372.0 C563.0,369.6 572.1,359.3 575.0,355.0 C577.9,350.7 585.0,338.6 585.0,335.0 C585.0,331.4 577.6,324.5 575.0,324.0 C572.4,323.5 565.0,329.4 563.0,331.0Z" fill="#9a9a9a" stroke="#828282" stroke-width="0.7" stroke-linejoin="round" />
<path d="M563.0,331.0 L558.0,338.0 L546.0,352.0 L536.0,368.0 L524.5,380.5 L527.5,381.5 L539.0,369.0 L549.0,353.5 L561.0,339.5 L566.0,332.0Z" fill="#c2c2c2" stroke="none" stroke-width="0.6" stroke-linejoin="round" />
<path d="M524.8,380.5 L526.0,388.0 L533.5,387.5 L535.0,383.2 L543.5,383.2 L545.0,386.5 L557.5,385.5 L556.0,380.0 L547.0,376.5 L531.0,377.5Z" fill="#adadad" stroke="#7f7f7f" stroke-width="0.6" stroke-linejoin="round" />
<path d="M531.0,377.5 L547.0,376.5 L556.0,380.0 L543.5,381.0 L535.0,381.0 L526.0,381.5Z" fill="#c9c9c9" stroke="none" stroke-width="0.6" stroke-linejoin="round" />
<path d="M634.7,276.0 L649.0,267.0 L657.0,258.5 L666.7,257.5 L674.7,259.5 L677.0,255.0 L685.0,255.5 L692.0,261.0 L691.0,267.7 L696.0,271.7 L698.7,279.7 L696.5,290.0 L692.0,298.0 L693.0,305.0 L689.0,310.0 L684.0,309.2 L680.0,306.0 L669.0,308.0 L662.7,312.0 L661.0,320.0 L656.0,336.0 L642.0,358.0 L630.0,378.5 L614.0,385.5 L610.5,381.0 L602.0,390.5 L592.0,391.5 L586.5,383.0 L584.0,371.5 L577.0,366.0 L574.0,350.0 L570.0,334.0 L566.0,327.0 L574.0,323.2 L584.0,321.5 L596.0,317.0 L608.0,313.0 L614.0,306.0 L617.0,298.0 L620.0,288.0 L628.0,281.5Z" fill="#a6a6a6" stroke="#858585" stroke-width="0.8" stroke-linejoin="round" />
<path d="M677.0,255.0 C678.8,254.5 682.5,254.5 685.0,255.5 C687.5,256.5 691.0,259.0 692.0,261.0 C693.0,263.0 690.3,265.9 691.0,267.7 C691.7,269.5 694.7,269.7 696.0,271.7 C697.3,273.7 698.6,276.6 698.7,279.7 C698.8,282.8 697.6,286.9 696.5,290.0 C695.4,293.1 692.6,295.5 692.0,298.0 C691.4,300.5 693.5,303.0 693.0,305.0 C692.5,307.0 690.5,309.3 689.0,310.0 C687.5,310.7 685.5,309.9 684.0,309.2 C682.5,308.5 682.0,307.0 680.0,306.0 C678.0,305.0 674.2,305.3 672.0,303.0 C669.8,300.7 668.0,296.3 667.0,292.0 C666.0,287.7 665.6,281.7 666.0,277.0 C666.4,272.3 668.2,267.1 669.5,264.0 C670.8,260.9 672.8,260.0 674.0,258.5 C675.2,257.0 675.2,255.5 677.0,255.0Z" fill="#b4b4b4" stroke="#8a8a8a" stroke-width="0.7" stroke-linejoin="round" />
<ellipse cx="682.5" cy="283.0" rx="11.8" ry="21.5" transform="rotate(14 682.5 283.0)" fill="#9f9f9f" stroke="#8d8d8d" stroke-width="0.6" />
<ellipse cx="683.5" cy="283.5" rx="8.8" ry="16.5" transform="rotate(14 683.5 283.5)" fill="#aaaaaa" stroke="#949494" stroke-width="0.6" />
<ellipse cx="686.5" cy="263.0" rx="1.3" ry="1.8" transform="rotate(14 686.5 263.0)" fill="#e0e0e0" stroke="#8a8a8a" stroke-width="0.5" />
<ellipse cx="688.5" cy="305.0" rx="1.3" ry="1.8" transform="rotate(14 688.5 305.0)" fill="#e0e0e0" stroke="#8a8a8a" stroke-width="0.5" />
<path d="M668.0,281.2 L689.0,291.4 L688.2,294.6 L667.4,284.6Z" fill="#d6d6d6" stroke="#9a9a9a" stroke-width="0.5" stroke-linejoin="round" />
<path d="M634.7,276.0 L649.0,267.0 L657.0,258.5 L666.7,257.5 L674.7,259.5 L671.0,266.5 L663.5,272.0 L652.0,280.0 L640.0,288.5 L628.5,297.0 L622.5,303.0 L618.0,299.0 L620.0,288.0 L628.0,281.5Z" fill="#c3c3c3" stroke="#9a9a9a" stroke-width="0.5" stroke-linejoin="round" />
<path d="M649.0,267.0 C648.5,266.0 651.2,262.1 653.0,260.5 C654.8,258.9 657.5,257.7 660.0,257.2 C662.5,256.7 667.5,256.7 668.0,257.5 C668.5,258.3 665.0,260.5 663.0,262.0 C661.0,263.5 658.3,265.7 656.0,266.5 C653.7,267.3 649.5,268.0 649.0,267.0Z" fill="#b2b2b2" stroke="none" stroke-width="0.6" stroke-linejoin="round" />
<path d="M628.5,297.0 L640.0,288.5 L652.0,280.0 L663.5,272.0 L668.0,277.0 L666.5,289.0 L668.0,300.0 L669.0,308.0 L662.7,312.0 L655.0,315.5 L644.0,318.5 L640.0,309.0Z" fill="#8a8a8a" stroke="none" stroke-width="0.6" stroke-linejoin="round" />
<path d="M633.0,300.0 C633.6,296.6 637.5,295.7 641.0,296.0 C644.5,296.3 647.7,298.2 650.5,301.5 C653.3,304.8 655.9,309.2 655.0,312.5 C654.1,315.8 649.4,317.9 646.0,318.0 C642.6,318.1 640.6,316.6 638.0,313.0 C635.4,309.4 632.4,303.4 633.0,300.0Z" fill="#c6c6c6" stroke="#9d9d9d" stroke-width="0.5" stroke-linejoin="round" />
<path d="M651.0,284.0 C652.8,281.1 658.1,279.5 661.0,280.5 C663.9,281.5 664.8,285.1 665.5,289.0 C666.2,292.9 666.2,297.1 664.5,300.0 C662.8,302.9 659.5,304.5 657.0,303.5 C654.5,302.5 653.2,298.9 652.0,295.0 C650.8,291.1 649.2,286.9 651.0,284.0Z" fill="#b7b7b7" stroke="none" stroke-width="0.6" stroke-linejoin="round" />
<path d="M617.0,298.0 L622.5,303.0 L628.5,297.0 L633.0,300.0 L627.5,309.0 L624.5,319.5 L629.5,325.0 L640.0,321.5 L655.0,315.5 L662.7,312.0 L661.0,320.0 L656.0,336.0 L642.0,358.0 L630.0,378.5 L614.0,385.5 L610.5,381.0 L606.0,372.0 L600.0,362.0 L607.0,352.0 L604.0,340.0 L607.5,326.0 L610.0,313.0 L614.0,306.0Z" fill="#b5b5b5" stroke="#8d8d8d" stroke-width="0.5" stroke-linejoin="round" />
<path d="M631.5,301.5 C632.7,301.5 636.2,307.8 637.5,309.5 C638.8,311.2 643.3,314.9 642.5,316.5 C641.7,318.1 632.4,323.2 630.5,323.5 C628.6,323.8 626.4,320.6 626.0,319.0 C625.6,317.4 626.9,311.5 627.5,309.5 C628.1,307.5 630.3,301.5 631.5,301.5Z" fill="#8b8b8b" stroke="#7d7d7d" stroke-width="0.6" stroke-linejoin="round" />
<path d="M633.5,308.0 C634.8,307.8 639.8,314.5 639.5,316.0 C639.2,317.5 632.3,320.8 631.0,321.0 C629.7,321.2 628.2,319.0 628.5,317.5 C628.8,316.0 632.2,308.2 633.5,308.0Z" fill="#b9b9b9" stroke="none" stroke-width="0.6" stroke-linejoin="round" />
<path d="M617.0,298.0 L614.0,306.0 L610.0,313.0 L607.5,326.0 L604.0,340.0 L600.0,352.0 L604.5,353.5 L609.0,341.0 L612.5,327.0 L616.0,314.0 L620.5,305.5 L622.5,303.0Z" fill="#949494" stroke="none" stroke-width="0.6" stroke-linejoin="round" />
<path d="M629.5,325.0 L640.0,321.5 L655.0,315.5 L661.0,320.0 L656.0,336.0 L642.0,358.0 L630.0,378.5 L620.0,371.0 L613.0,358.0 L617.5,341.0 L623.0,330.0Z" fill="#bababa" stroke="none" stroke-width="0.6" stroke-linejoin="round" />
<path d="M661.0,320.0 L656.0,336.0 L642.0,358.0 L630.0,378.5 L627.5,377.0 L639.5,357.0 L653.0,335.5 L657.5,319.0Z" fill="#a0a0a0" stroke="none" stroke-width="0.6" stroke-linejoin="round" />
<path d="M616.5,356.0 L622.5,357.5 L619.5,362.0 L615.0,360.0Z" fill="#f4f4f4" stroke="#9a9a9a" stroke-width="0.5" stroke-linejoin="round" />
<path d="M609.0,351.0 L616.5,356.0 L615.0,360.0 L607.5,356.0Z" fill="#868686" stroke="none" stroke-width="0.6" stroke-linejoin="round" />
<path d="M566.0,327.0 L574.0,323.2 L584.0,321.5 L596.0,317.0 L608.0,313.0 L610.0,313.0 L607.5,326.0 L604.0,340.0 L598.0,336.0 L588.0,331.0 L578.0,328.0 L570.0,334.0Z" fill="#9b9b9b" stroke="#858585" stroke-width="0.5" stroke-linejoin="round" />
<path d="M574.0,323.2 L584.0,321.5 L596.0,317.0 L608.0,313.0 L606.5,316.5 L596.0,320.0 L585.0,324.2 L576.0,326.0Z" fill="#c4c4c4" stroke="none" stroke-width="0.6" stroke-linejoin="round" />
<path d="M584.0,371.5 C582.2,373.8 585.2,379.7 586.5,383.0 C587.8,386.3 589.4,390.2 592.0,391.5 C594.6,392.8 598.9,392.2 602.0,390.5 C605.1,388.8 609.8,384.1 610.5,381.0 C611.2,377.9 608.2,374.0 606.0,372.0 C603.8,370.0 600.7,369.1 597.0,369.0 C593.3,368.9 585.8,369.2 584.0,371.5Z" fill="#a2a2a2" stroke="#858585" stroke-width="0.6" stroke-linejoin="round" />
<ellipse cx="592.8" cy="384.5" rx="3.0" ry="4.4" transform="rotate(26 592.8 384.5)" fill="#c9c9c9" stroke="#8a8a8a" stroke-width="0.5" />
<path d="M597.0,369.0 L606.0,372.0 L610.5,381.0 L614.0,385.5 L630.0,378.5 L620.0,371.0 L612.0,362.0 L603.0,362.0Z" fill="#b0b0b0" stroke="#8d8d8d" stroke-width="0.5" stroke-linejoin="round" />
<ellipse cx="574.0" cy="337.5" rx="9.2" ry="14.6" transform="rotate(26 574.0 337.5)" fill="#a2a2a2" stroke="#858585" stroke-width="0.6" />
<path d="M563.0,330.0 C564.3,327.5 566.4,325.8 569.0,324.5 C571.6,323.2 574.3,322.4 577.0,323.0 C579.7,323.6 581.7,325.6 583.5,328.0 C585.3,330.4 585.4,334.9 587.0,336.0 C588.6,337.1 589.6,334.3 592.0,334.0 C594.4,333.7 597.4,333.4 600.0,334.5 C602.6,335.6 604.6,337.3 606.0,340.0 C607.4,342.7 608.0,345.4 607.5,349.0 C607.0,352.6 606.9,356.6 603.5,359.5 C600.1,362.4 593.8,362.6 589.0,365.0 C584.2,367.4 582.5,370.3 577.5,372.5 C572.5,374.7 566.7,376.5 562.0,377.0 C557.3,377.5 554.6,376.4 552.0,375.0 C549.4,373.6 547.9,371.9 547.6,369.6 C547.3,367.3 548.4,365.9 550.5,362.5 C552.6,359.1 556.9,355.4 559.0,351.0 C561.1,346.6 561.1,342.2 561.8,338.4 C562.5,334.5 561.7,332.5 563.0,330.0Z" fill="#ababab" stroke="#858585" stroke-width="0.8" stroke-linejoin="round" />
<ellipse cx="577.2" cy="338.8" rx="8.4" ry="14.0" transform="rotate(26 577.2 338.8)" fill="#b4b4b4" stroke="#868686" stroke-width="0.6" />
<ellipse cx="578.0" cy="339.4" rx="4.9" ry="8.2" transform="rotate(26 578.0 339.4)" fill="#858585" stroke="#7c7c7c" stroke-width="0.5" />
<ellipse cx="579.0" cy="339.9" rx="3.9" ry="7.0" transform="rotate(26 579.0 339.9)" fill="#cdcdcd" stroke="none" stroke-width="0.6" />
<path d="M565.0,346.0 C566.9,345.3 568.2,350.5 571.0,352.0 C573.8,353.5 578.7,353.8 582.0,355.0 C585.3,356.2 590.3,358.0 591.0,359.5 C591.7,361.0 588.8,362.4 586.0,364.0 C583.2,365.6 577.9,368.8 574.0,369.0 C570.1,369.2 564.9,367.2 562.5,365.0 C560.1,362.8 559.1,359.2 559.5,356.0 C559.9,352.8 563.1,346.7 565.0,346.0Z" fill="#929292" stroke="none" stroke-width="0.6" stroke-linejoin="round" />
<ellipse cx="596.0" cy="346.0" rx="8.6" ry="13.4" transform="rotate(26 596.0 346.0)" fill="#999999" stroke="#828282" stroke-width="0.6" />
<ellipse cx="599.0" cy="347.5" rx="8.4" ry="13.2" transform="rotate(26 599.0 347.5)" fill="#b6b6b6" stroke="#868686" stroke-width="0.6" />
<ellipse cx="599.6" cy="347.9" rx="5.0" ry="8.0" transform="rotate(26 599.6 347.9)" fill="#858585" stroke="#7c7c7c" stroke-width="0.5" />
<ellipse cx="600.6" cy="348.4" rx="4.0" ry="6.8" transform="rotate(26 600.6 348.4)" fill="#d2d2d2" stroke="none" stroke-width="0.6" />
<ellipse cx="556.2" cy="367.2" rx="7.4" ry="6.4" transform="rotate(-20 556.2 367.2)" fill="#b8b8b8" stroke="#8a8a8a" stroke-width="0.6" />
<ellipse cx="556.4" cy="367.4" rx="4.4" ry="3.8" transform="rotate(-20 556.4 367.4)" fill="#9a9a9a" stroke="#808080" stroke-width="0.6" />
<ellipse cx="556.8" cy="367.8" rx="3.0" ry="2.6" transform="rotate(-20 556.8 367.8)" fill="#c6c6c6" stroke="#8a8a8a" stroke-width="0.4" />
<path d="M549.0,372.5 L552.0,375.0 L562.0,377.0 L577.5,372.5 L589.0,365.0 L603.5,359.5 L604.0,363.5 L590.0,369.5 L578.5,377.0 L562.0,380.5 L550.0,378.5 L546.5,373.0Z" fill="#848484" stroke="none" stroke-width="0.6" stroke-linejoin="round" />
<ellipse cx="718" cy="303" rx="5.6" ry="8.6" transform="rotate(26 718 302.7)" fill="none" stroke="#7a7a7a" stroke-width="1.1"/>
<path d="M732.0,301.7 L752.2,311.5 A4.0,7.2 26 0 1 745.9,324.4 L725.6,314.7 A4.0,7.2 26 0 1 732.0,301.7Z" fill="#a4a4a4" stroke="#858585" stroke-width="0.6" stroke-linejoin="round" />
<ellipse cx="728.6" cy="308.1" rx="3.9" ry="7.1" transform="rotate(26 728.6 308.1)" fill="#c1c1c1" stroke="#8a8a8a" stroke-width="0.6" />
<path d="M736.9,304.2 A3.9,7.2 26 0 1 730.7,317.0" fill="none" stroke="#8a8a8a" stroke-width="0.7"/>
<path d="M741.4,306.3 A3.9,7.2 26 0 1 735.2,319.1" fill="none" stroke="#8a8a8a" stroke-width="0.7"/>
<path d="M745.9,308.5 A3.9,7.2 26 0 1 739.7,321.3" fill="none" stroke="#8a8a8a" stroke-width="0.7"/>
<path d="M732.6,301.8 L752.0,311.0 L751.4,313.2 L732.0,304.0Z" fill="#c4c4c4" stroke="none" stroke-width="0.6" stroke-linejoin="round" />
<ellipse cx="750.6" cy="318.6" rx="4.4" ry="8.2" transform="rotate(26 750.6 318.6)" fill="#9a9a9a" stroke="#858585" stroke-width="0.6" />
<ellipse cx="752.2" cy="319.4" rx="4.4" ry="8.2" transform="rotate(26 752.2 319.4)" fill="#b1b1b1" stroke="#858585" stroke-width="0.6" />
<path d="M756.1,314.7 L768.7,320.7 A3.2,5.9 26 0 1 763.5,331.4 L750.9,325.3 A3.2,5.9 26 0 1 756.1,314.7Z" fill="#b0b0b0" stroke="#858585" stroke-width="0.6" stroke-linejoin="round" />
<ellipse cx="766.1" cy="326.1" rx="3.2" ry="5.9" transform="rotate(26 766.1 326.1)" fill="#a3a3a3" stroke="#858585" stroke-width="0.6" />
<path d="M757.0,314.6 L768.4,320.0 L768.0,321.8 L756.6,316.4Z" fill="#c8c8c8" stroke="none" stroke-width="0.6" stroke-linejoin="round" />
<ellipse cx="766.6" cy="326.3" rx="1.9" ry="3.3" transform="rotate(26 766.6 326.3)" fill="#ddd" stroke="#888" stroke-width="0.5" />
<ellipse cx="770.5" cy="349.5" rx="4.8" ry="8.6" transform="rotate(26 770.5 349.5)" fill="#a5a5a5" stroke="#858585" stroke-width="0.6" />
<path d="M774.0,343.7 L786.6,349.7 A3.7,6.8 26 0 1 780.6,362.0 L768.0,355.9 A3.7,6.8 26 0 1 774.0,343.7Z" fill="#b4b4b4" stroke="#8a8a8a" stroke-width="0.6" stroke-linejoin="round" />
<ellipse cx="783.6" cy="356.0" rx="4.4" ry="10.8" transform="rotate(26 783.6 356.0)" fill="#979797" stroke="#858585" stroke-width="0.6" />
<ellipse cx="785.2" cy="356.8" rx="4.4" ry="10.8" transform="rotate(26 785.2 356.8)" fill="#adadad" stroke="#858585" stroke-width="0.6" />
<ellipse cx="770.6" cy="349.6" rx="3.0" ry="5.6" transform="rotate(26 770.6 349.6)" fill="#bfbfbf" stroke="#8d8d8d" stroke-width="0.5" />
<path d="M765.5,357.0 L769.5,355.5 L772.0,359.0 L779.0,362.5 L778.5,367.0 L775.0,368.0 L776.0,373.5 L771.5,374.5 L770.5,369.0 L766.5,366.5Z" fill="#a9a9a9" stroke="#858585" stroke-width="0.6" stroke-linejoin="round" />
<path d="M768.0,359.5 L771.5,361.0 L771.0,364.5 L767.5,363.0Z" fill="#e6e6e6" stroke="#8a8a8a" stroke-width="0.4" stroke-linejoin="round" />
<path d="M771.5,369.0 L775.0,368.0 L776.0,373.5 L771.5,374.5Z" fill="#c2c2c2" stroke="#858585" stroke-width="0.4" stroke-linejoin="round" />
<path d="M818.5,365.5 L830.0,362.0 L836.0,366.0 L835.5,372.5 L827.5,374.0 L819.0,371.0Z" fill="#a5a5a5" stroke="#858585" stroke-width="0.6" stroke-linejoin="round" />
<path d="M818.5,365.5 L830.0,362.0 L835.0,364.6 L823.5,368.0Z" fill="#c6c6c6" stroke="none" stroke-width="0.6" stroke-linejoin="round" />
<path d="M831.0,357.0 C832.1,353.4 833.3,352.0 835.5,350.0 C837.7,348.0 839.3,347.1 842.0,346.8 C844.7,346.5 846.3,346.9 849.0,348.5 C851.7,350.1 853.6,351.9 855.5,355.0 C857.4,358.1 858.1,360.5 858.3,364.0 C858.5,367.5 858.0,369.9 856.5,372.5 C855.0,375.1 853.3,376.2 851.0,377.0 C848.7,377.8 848.0,377.3 845.0,376.5 C842.0,375.7 839.0,374.7 836.0,373.0 C833.0,371.3 831.0,371.2 830.0,368.0 C829.0,364.8 829.9,360.6 831.0,357.0Z" fill="#a0a0a0" stroke="#858585" stroke-width="0.7" stroke-linejoin="round" />
<path d="M831.0,357.0 C831.9,354.3 833.7,351.7 835.5,350.0 C837.3,348.3 839.8,347.1 842.0,346.8 C844.2,346.6 848.3,347.4 849.0,348.5 C849.7,349.6 847.3,351.4 846.0,353.5 C844.7,355.6 842.3,358.2 841.0,361.0 C839.7,363.8 839.2,368.4 838.0,370.0 C836.8,371.6 834.8,371.2 833.5,370.5 C832.2,369.8 830.4,368.2 830.0,366.0 C829.6,363.8 830.1,359.7 831.0,357.0Z" fill="#b6b6b6" stroke="none" stroke-width="0.6" stroke-linejoin="round" />
<ellipse cx="850.5" cy="365.0" rx="5.8" ry="11.8" transform="rotate(26 850.5 365.0)" fill="#ababab" stroke="#8a8a8a" stroke-width="0.6" />
<path d="M848.5,361.5 L853.5,364.0 L853.0,368.5 L848.0,366.0Z" fill="#d8d8d8" stroke="#8a8a8a" stroke-width="0.4" stroke-linejoin="round" />
<path d="M860.8,368.0 C862.8,366.1 865.6,365.7 869.0,364.6 C872.4,363.5 874.6,363.0 878.0,362.4 C881.4,361.8 883.3,361.4 886.0,361.6 C888.7,361.8 889.5,362.1 891.5,363.4 C893.5,364.7 894.8,365.7 895.8,368.0 C896.8,370.3 896.9,372.0 896.4,375.0 C895.9,378.0 895.0,380.5 893.4,383.2 C891.8,385.9 890.7,386.6 888.5,388.6 C886.3,390.6 885.8,391.2 882.5,393.0 C879.2,394.8 876.1,395.9 872.0,397.6 C867.9,399.3 864.9,401.0 862.0,401.6 C859.1,402.2 858.8,401.5 857.5,400.4 C856.2,399.3 855.7,398.5 855.4,396.0 C855.1,393.5 855.6,391.0 856.0,388.0 C856.4,385.0 857.0,383.8 857.6,381.0 C858.2,378.2 858.4,376.6 859.0,374.0 C859.6,371.4 858.8,369.9 860.8,368.0Z" fill="none" stroke="#8d8d8d" stroke-width="3.0"/>
<path d="M860.8,368.0 C862.8,366.1 865.6,365.7 869.0,364.6 C872.4,363.5 874.6,363.0 878.0,362.4 C881.4,361.8 883.3,361.4 886.0,361.6 C888.7,361.8 889.5,362.1 891.5,363.4 C893.5,364.7 894.8,365.7 895.8,368.0 C896.8,370.3 896.9,372.0 896.4,375.0 C895.9,378.0 895.0,380.5 893.4,383.2 C891.8,385.9 890.7,386.6 888.5,388.6 C886.3,390.6 885.8,391.2 882.5,393.0 C879.2,394.8 876.1,395.9 872.0,397.6 C867.9,399.3 864.9,401.0 862.0,401.6 C859.1,402.2 858.8,401.5 857.5,400.4 C856.2,399.3 855.7,398.5 855.4,396.0 C855.1,393.5 855.6,391.0 856.0,388.0 C856.4,385.0 857.0,383.8 857.6,381.0 C858.2,378.2 858.4,376.6 859.0,374.0 C859.6,371.4 858.8,369.9 860.8,368.0Z" fill="none" stroke="#c4c4c4" stroke-width="1.5"/>
<path d="M921.5,371.0 C922.4,369.1 922.9,369.1 924.0,368.4 C925.1,367.7 925.7,367.6 927.0,367.6 C928.3,367.6 929.4,367.8 930.5,368.6 C931.6,369.4 932.0,369.5 932.6,371.5 C933.2,373.5 931.4,376.5 933.5,378.8 C935.6,381.1 940.2,381.4 943.2,383.2 C946.2,385.0 946.9,385.7 948.5,388.0 C950.1,390.3 950.6,391.3 951.2,394.5 C951.8,397.7 951.9,400.8 951.5,403.8 C951.1,406.8 950.2,407.5 949.0,409.5 C947.8,411.5 947.4,411.9 945.4,413.8 C943.4,415.7 942.6,417.3 938.9,419.2 C935.2,421.1 931.8,422.2 927.0,423.5 C922.2,424.8 920.0,426.0 915.0,425.8 C910.0,425.6 905.2,422.2 902.0,422.4 C898.8,422.6 900.2,425.5 898.8,426.7 C897.4,427.9 896.6,428.0 895.0,428.2 C893.4,428.4 892.5,428.2 891.0,427.6 C889.5,427.0 888.4,426.2 887.6,425.0 C886.8,423.8 886.6,423.0 886.9,421.5 C887.2,420.0 887.1,419.1 889.0,417.7 C890.9,416.3 894.8,416.7 896.6,414.4 C898.4,412.1 897.6,409.2 898.0,406.0 C898.4,402.8 898.3,401.4 898.8,398.4 C899.3,395.4 899.7,393.6 900.5,391.0 C901.3,388.4 901.5,387.1 903.0,385.3 C904.5,383.5 906.0,383.1 908.0,382.0 C910.0,380.9 910.6,380.8 912.9,380.0 C915.2,379.2 917.7,379.6 919.4,377.8 C921.1,376.0 920.6,372.9 921.5,371.0Z" fill="#a2a2a2" stroke="#858585" stroke-width="0.8" stroke-linejoin="round" />
<path d="M903.0,385.3 C905.4,382.2 910.2,381.2 912.9,380.0 C915.6,378.8 919.2,376.8 919.4,377.8 C919.6,378.8 915.5,382.6 914.0,386.0 C912.5,389.4 911.3,394.0 910.5,398.0 C909.7,402.0 909.2,405.8 909.0,410.0 C908.8,414.2 910.7,420.9 909.5,423.0 C908.3,425.1 904.1,423.8 902.0,422.4 C899.9,421.0 897.5,418.5 897.0,414.5 C896.5,410.5 897.8,403.3 898.8,398.4 C899.8,393.5 900.6,388.4 903.0,385.3Z" fill="#b8b8b8" stroke="none" stroke-width="0.6" stroke-linejoin="round" />
<path d="M903.0,385.3 C904.2,383.6 909.9,381.3 912.9,380.0 C915.9,378.7 917.6,377.7 921.0,377.5 C924.4,377.3 929.8,377.9 933.5,378.8 C937.2,379.8 942.8,382.2 943.2,383.2 C943.6,384.2 938.9,384.6 936.0,385.0 C933.1,385.4 929.3,385.0 926.0,385.5 C922.7,386.0 918.8,386.8 916.0,388.0 C913.2,389.2 910.8,392.2 909.0,392.5 C907.2,392.8 906.5,391.2 905.5,390.0 C904.5,388.8 901.8,387.0 903.0,385.3Z" fill="#c2c2c2" stroke="none" stroke-width="0.6" stroke-linejoin="round" />
<path d="M916.0,388.0 C918.5,386.1 922.7,386.0 926.0,385.5 C929.3,385.0 933.1,385.4 936.0,385.0 C938.9,384.6 941.1,382.7 943.2,383.2 C945.3,383.7 947.2,386.1 948.5,388.0 C949.8,389.9 950.7,391.9 951.2,394.5 C951.7,397.1 951.9,401.3 951.5,403.8 C951.1,406.3 950.0,407.8 949.0,409.5 C948.0,411.2 947.1,412.2 945.4,413.8 C943.7,415.4 942.0,417.6 938.9,419.2 C935.8,420.8 931.0,422.4 927.0,423.5 C923.0,424.6 917.8,425.8 915.0,425.8 C912.2,425.8 911.0,426.1 910.0,423.5 C909.0,420.9 909.1,414.4 909.3,410.0 C909.5,405.6 909.9,400.7 911.0,397.0 C912.1,393.3 913.5,389.9 916.0,388.0Z" fill="#9b9b9b" stroke="none" stroke-width="0.6" stroke-linejoin="round" />
<ellipse cx="940.5" cy="405.5" rx="9.6" ry="14.2" transform="rotate(24 940.5 405.5)" fill="#a6a6a6" stroke="#8e8e8e" stroke-width="0.7" />
<ellipse cx="927.5" cy="371.8" rx="3.2" ry="2.6" transform="rotate(0 927.5 371.8)" fill="#c9c9c9" stroke="#8a8a8a" stroke-width="0.5" />
<ellipse cx="892.5" cy="422.5" rx="3.4" ry="2.8" transform="rotate(0 892.5 422.5)" fill="#c9c9c9" stroke="#8a8a8a" stroke-width="0.5" />
<path d="M975.0,395.8 L982.5,399.4 L981.6,402.6 L974.0,398.7Z" fill="#a9a9a9" stroke="#858585" stroke-width="0.5" stroke-linejoin="round" />
<ellipse cx="983.1" cy="398.9" rx="3.0" ry="5.2" transform="rotate(26 983.1 398.9)" fill="#9c9c9c" stroke="#858585" stroke-width="0.6" />
<ellipse cx="984.5" cy="399.5" rx="3.0" ry="5.2" transform="rotate(26 984.5 399.5)" fill="#b9b9b9" stroke="#858585" stroke-width="0.6" />
<ellipse cx="984.9" cy="399.7" rx="1.4" ry="2.4" transform="rotate(26 984.9 399.7)" fill="#8f8f8f" stroke="none" stroke-width="0.6" />
<path d="M976.0,435.8 L983.5,439.4 L982.6,442.6 L975.0,438.7Z" fill="#a9a9a9" stroke="#858585" stroke-width="0.5" stroke-linejoin="round" />
<ellipse cx="984.1" cy="438.9" rx="3.0" ry="5.2" transform="rotate(26 984.1 438.9)" fill="#9c9c9c" stroke="#858585" stroke-width="0.6" />
<ellipse cx="985.5" cy="439.5" rx="3.0" ry="5.2" transform="rotate(26 985.5 439.5)" fill="#b9b9b9" stroke="#858585" stroke-width="0.6" />
<ellipse cx="985.9" cy="439.7" rx="1.4" ry="2.4" transform="rotate(26 985.9 439.7)" fill="#8f8f8f" stroke="none" stroke-width="0.6" />
<path d="M969.0,456.3 L976.5,459.9 L975.6,463.1 L968.0,459.2Z" fill="#a9a9a9" stroke="#858585" stroke-width="0.5" stroke-linejoin="round" />
<ellipse cx="977.1" cy="459.4" rx="3.0" ry="5.2" transform="rotate(26 977.1 459.4)" fill="#9c9c9c" stroke="#858585" stroke-width="0.6" />
<ellipse cx="978.5" cy="460.0" rx="3.0" ry="5.2" transform="rotate(26 978.5 460.0)" fill="#b9b9b9" stroke="#858585" stroke-width="0.6" />
<ellipse cx="978.9" cy="460.2" rx="1.4" ry="2.4" transform="rotate(26 978.9 460.2)" fill="#8f8f8f" stroke="none" stroke-width="0.6" />
<ellipse cx="502.3" cy="401.7" rx="3.6" ry="6.2" transform="rotate(-12 502.3 401.7)" fill="#9a9a9a" stroke="#858585" stroke-width="0.6" />
<ellipse cx="504.1" cy="402.9" rx="3.8" ry="6.4" transform="rotate(-12 504.1 402.9)" fill="#bababa" stroke="#858585" stroke-width="0.6" />
<ellipse cx="504.5" cy="403.3" rx="1.6" ry="2.8" transform="rotate(-12 504.5 403.3)" fill="#8e8e8e" stroke="none" stroke-width="0.6" />
<ellipse cx="520.6" cy="445.8" rx="3.6" ry="6.2" transform="rotate(-12 520.6 445.8)" fill="#9a9a9a" stroke="#858585" stroke-width="0.6" />
<ellipse cx="522.4" cy="447.0" rx="3.8" ry="6.4" transform="rotate(-12 522.4 447.0)" fill="#bababa" stroke="#858585" stroke-width="0.6" />
<ellipse cx="522.8" cy="447.4" rx="1.6" ry="2.8" transform="rotate(-12 522.8 447.4)" fill="#8e8e8e" stroke="none" stroke-width="0.6" />
<path d="M451.6,442.6 L466.0,430.2 L469.2,434.0 L454.9,446.4Z" fill="#ababab" stroke="#858585" stroke-width="0.6" stroke-linejoin="round" />
<path d="M451.6,442.6 L466.0,430.2 L467.2,431.6 L452.9,444.1Z" fill="#c6c6c6" stroke="none" stroke-width="0.6" stroke-linejoin="round" />
<path d="M466.8,431.2 L470.4,428.4 L471.6,429.8 L468.4,433.0Z" fill="#a5a5a5" stroke="#858585" stroke-width="0.4" stroke-linejoin="round" />
<ellipse cx="452.7" cy="445.1" rx="4.2" ry="3.6" transform="rotate(-41 452.7 445.1)" fill="#a3a3a3" stroke="#858585" stroke-width="0.6" />
<ellipse cx="451.0" cy="446.5" rx="4.8" ry="4.0" transform="rotate(-41 451.0 446.5)" fill="#b7b7b7" stroke="#858585" stroke-width="0.6" />
<ellipse cx="450.5" cy="446.9" rx="2.4" ry="2.0" transform="rotate(-41 450.5 446.9)" fill="#8f8f8f" stroke="none" stroke-width="0.6" />
<path d="M461.1,495.1 L479.2,479.4 L482.5,483.2 L464.4,498.9Z" fill="#ababab" stroke="#858585" stroke-width="0.6" stroke-linejoin="round" />
<path d="M461.1,495.1 L479.2,479.4 L480.5,480.8 L462.4,496.6Z" fill="#c6c6c6" stroke="none" stroke-width="0.6" stroke-linejoin="round" />
<path d="M480.1,480.4 L483.7,477.7 L484.9,479.0 L481.7,482.2Z" fill="#a5a5a5" stroke="#858585" stroke-width="0.4" stroke-linejoin="round" />
<ellipse cx="462.2" cy="497.6" rx="4.2" ry="3.6" transform="rotate(-41 462.2 497.6)" fill="#a3a3a3" stroke="#858585" stroke-width="0.6" />
<ellipse cx="460.5" cy="499.0" rx="4.8" ry="4.0" transform="rotate(-41 460.5 499.0)" fill="#b7b7b7" stroke="#858585" stroke-width="0.6" />
<ellipse cx="460.0" cy="499.4" rx="2.4" ry="2.0" transform="rotate(-41 460.0 499.4)" fill="#8f8f8f" stroke="none" stroke-width="0.6" />
<ellipse cx="554.2" cy="503.2" rx="12.8" ry="2.7" transform="rotate(-3 554.2 503.2)" fill="#8f8f8f" stroke="#7f7f7f" stroke-width="0.6" />
<ellipse cx="554.2" cy="502.4" rx="12.6" ry="2.2" transform="rotate(-3 554.2 502.4)" fill="#cdcdcd" stroke="#8a8a8a" stroke-width="0.5" />
<path d="M551.6,517.5 L559.6,517.5 L560.0,531.0 L551.2,531.0Z" fill="#adadad" stroke="#858585" stroke-width="0.6" stroke-linejoin="round" />
<path d="M551.6,517.5 L554.4,517.5 L554.2,531.0 L551.2,531.0Z" fill="#c9c9c9" stroke="none" stroke-width="0.6" stroke-linejoin="round" />
<ellipse cx="555.6" cy="517.6" rx="4.0" ry="1.3" transform="rotate(0 555.6 517.6)" fill="#c2c2c2" stroke="#858585" stroke-width="0.5" />
<path d="M549.6,533.0 C550.0,532.0 550.3,530.8 552.0,530.4 C553.7,530.0 558.1,530.1 560.0,530.4 C561.9,530.7 562.9,531.6 563.6,532.4 C564.3,533.2 564.8,534.4 564.4,535.4 C564.0,536.4 562.9,537.8 561.0,538.4 C559.1,539.0 554.9,539.1 553.0,538.8 C551.1,538.5 550.4,537.4 549.8,536.4 C549.2,535.4 549.2,534.0 549.6,533.0Z" fill="#a9a9a9" stroke="#858585" stroke-width="0.6" stroke-linejoin="round" />
<path d="M550.4,533.4 L563.4,533.0 L563.6,534.6 L550.4,535.0Z" fill="#cbcbcb" stroke="none" stroke-width="0.6" stroke-linejoin="round" />
<ellipse cx="514.8" cy="551.9" rx="7.4" ry="2.6" transform="rotate(14 514.8 551.9)" fill="#8f8f8f" stroke="#7f7f7f" stroke-width="0.6" />
<ellipse cx="514.9" cy="551.2" rx="7.2" ry="2.2" transform="rotate(14 514.9 551.2)" fill="#cdcdcd" stroke="#8a8a8a" stroke-width="0.5" />
<ellipse cx="515.2" cy="551.4" rx="2.6" ry="0.9" transform="rotate(14 515.2 551.4)" fill="#9a9a9a" stroke="none" stroke-width="0.6" />
<path d="M504.8,570.4 L511.0,571.2 L504.6,592.6 L498.4,591.4Z" fill="#adadad" stroke="#858585" stroke-width="0.6" stroke-linejoin="round" />
<path d="M504.8,570.4 L507.2,570.7 L500.8,591.9 L498.4,591.4Z" fill="#c9c9c9" stroke="none" stroke-width="0.6" stroke-linejoin="round" />
<path d="M494.6,592.6 C495.2,591.6 495.8,590.1 497.4,589.8 C499.0,589.5 502.8,590.4 504.2,591.0 C505.6,591.6 505.9,592.4 506.0,593.6 C506.1,594.8 505.6,596.9 504.6,598.0 C503.6,599.1 501.5,600.2 500.0,600.5 C498.5,600.8 496.4,600.2 495.4,599.5 C494.4,598.8 493.9,597.1 493.8,596.0 C493.7,594.9 494.0,593.6 494.6,592.6Z" fill="#a9a9a9" stroke="#858585" stroke-width="0.6" stroke-linejoin="round" /></g>
<g id="thin" fill="none" stroke="#626262" stroke-width="0.95"><path d="M24.0,50.5 L96.0,85.0"/><path d="M104.0,88.8 L146.0,109.0"/><path d="M167.0,119.0 L249.0,158.3"/><path d="M257.0,162.1 L270.0,168.4"/><path d="M288.0,177.0 L304.0,184.6"/><path d="M314.0,189.4 L336.0,200.0"/><path d="M33.0,156.8 L96.0,187.0"/><path d="M104.0,190.8 L152.0,213.8"/><path d="M171.0,222.9 L249.0,260.3"/><path d="M257.0,264.1 L292.5,281.1"/><path d="M309.0,289.0 L341.0,304.4"/><path d="M329.0,177.7 L342.0,184.0"/><path d="M350.0,187.8 L420.0,221.3"/><path d="M452.0,236.7 L477.0,248.6"/><path d="M477.4,248.6 L477.4,190.0 L539.5,219.5"/><path d="M547.0,223.0 L610.0,253.0"/><path d="M617.0,256.0 L636.0,266.0"/><path d="M527.5,80.5 L627.0,127.8"/><path d="M616.6,262.0 L616.6,300.0 L617.4,356.0"/><path d="M710.0,212.5 L718.0,216.5"/><path d="M725.0,218.5 L729.5,222.7 L692.4,250.5 L673.3,241.5 L635.0,267.5 L647.5,274.0"/><path d="M679.3,284.6 L726.0,306.8"/><path d="M770.0,327.7 L777.0,331.0"/><path d="M784.7,334.7 L830.0,356.2"/><path d="M856.7,368.9 L902.0,390.4"/><path d="M670.0,284.0 L708.7,302.7 L692.7,309.3 L709.3,317.3"/><path d="M718.7,321.3 L736.7,330.0"/><path d="M745.3,334.0 L767.3,344.7"/><path d="M790.0,354.0 L796.0,350.7 L813.3,358.7 L795.3,365.3 L810.7,373.3 L819.3,369.3"/><path d="M761.3,365.3 L776.7,358.0"/><path d="M931.3,375.6 L954.0,385.3"/><path d="M940.0,419.0 L954.0,426.0"/><path d="M896.6,423.3 L953.6,450.4"/><path d="M962.7,389.7 L974.0,396.0"/><path d="M961.6,429.8 L975.5,436.5"/><path d="M962.7,453.6 L969.0,457.0"/><path d="M524.0,383.0 L507.0,398.0"/><path d="M500.0,406.0 L481.0,420.0"/><path d="M474.5,425.5 L472.0,427.6"/><path d="M594.0,384.0 L570.0,405.0"/><path d="M560.0,414.0 L528.0,442.0"/><path d="M519.0,450.0 L484.0,479.0"/></g>
<g id="mid" fill="none" stroke="#777" stroke-width="1.0"><path d="M542.0,387.0 L555.5,517.5"/><path d="M579.0,373.0 L552.0,448.0"/><path d="M547.0,462.0 L516.7,548.6"/><path d="M514.0,556.0 L509.3,570.6"/></g>
<g id="thick" fill="none" stroke="#1a1a1a" stroke-width="1.5" stroke-linecap="square"><path d="M55.0,19.5 L55.0,31.0"/><path d="M12.0,55.0 L12.0,240.0 L245.0,348.0 L349.5,348.0 L349.5,312.5"/><path d="M180.0,317.8 L180.0,330.0"/><path d="M177.0,49.0 L177.0,67.0"/><path d="M100.0,67.5 L252.5,67.5 L252.5,283.0 L150.0,283.0 L100.0,261.0Z"/><path d="M343.0,111.0 L343.0,123.7"/><path d="M309.0,136.0 L309.0,108.0 L380.5,140.5 L380.5,189.0"/><path d="M347.0,125.3 L347.0,205.0"/><path d="M407.0,177.5 L407.0,195.0"/><path d="M443.0,196.5 L443.0,213.0"/><path d="M621.0,20.0 L621.0,35.3"/><path d="M583.0,50.0 L583.0,18.0 L647.0,47.0 L647.0,59.5"/><path d="M604.0,27.6 L604.0,102.0"/><path d="M647.0,78.5 L647.0,128.0"/><path d="M708.0,161.5 L708.0,173.2"/><path d="M691.0,197.0 L691.0,165.5 L723.0,180.0 L723.0,213.0"/><path d="M813.0,249.5 L813.0,261.7"/><path d="M780.5,259.0 L780.5,246.6 L841.0,275.0 L841.0,346.0"/><path d="M780.5,277.8 L780.5,345.0"/><path d="M933.6,306.0 L933.6,318.6"/><path d="M880.0,305.5 L880.0,293.4 L977.0,339.0 L977.0,351.5"/><path d="M928.0,316.2 L928.0,327.5"/><path d="M880.0,324.5 L880.0,361.0"/><path d="M928.0,346.5 L928.0,368.0"/><path d="M977.0,370.5 L977.0,382.5"/><path d="M958.4,382.5 L998.0,382.5 L998.0,478.5 L958.4,478.5Z"/><path d="M714.4,313.0 L714.4,351.0 L741.0,364.0 L741.0,324.0"/><path d="M727.6,357.6 L727.6,369.6"/><path d="M416.0,408.0 L428.0,413.0"/><path d="M498.0,398.0 L464.4,383.4 L386.0,451.0 L468.0,487.6"/><path d="M439.4,406.0 L517.0,442.0"/><path d="M422.6,420.0 L456.0,436.0"/><path d="M447.0,451.0 L429.0,465.6"/><path d="M422.0,472.0 L311.0,567.0 L404.4,567.0"/><path d="M458.0,503.0 L407.0,545.6 L500.0,545.6"/><path d="M568.6,501.4 L600.7,499.0 L602.0,523.0 L561.0,526.0"/><path d="M602.0,511.0 L618.5,510.0"/><path d="M522.0,554.5 L558.8,563.6 L549.0,592.4 L509.0,583.8"/><path d="M554.5,578.0 L573.6,582.7"/></g>
<g id="labels" font-family="&quot;Liberation Sans&quot;, sans-serif" font-weight="bold" font-size="14.6" text-anchor="middle" fill="#111" stroke="#111" stroke-width="0.25"><circle cx="55" cy="10.3" r="8.9" fill="#fff" stroke="#161616" stroke-width="1.45"/><text transform="translate(55,15.4) scale(0.85,1)">18</text><circle cx="177" cy="39.5" r="8.9" fill="#fff" stroke="#161616" stroke-width="1.45"/><text transform="translate(177,44.6) scale(0.85,1)">17</text><circle cx="343" cy="102" r="8.9" fill="#fff" stroke="#161616" stroke-width="1.45"/><text transform="translate(343,107.1) scale(0.85,1)">16</text><circle cx="407" cy="168" r="8.9" fill="#fff" stroke="#161616" stroke-width="1.45"/><text transform="translate(407,173.1) scale(0.85,1)">15</text><circle cx="443" cy="187" r="8.9" fill="#fff" stroke="#161616" stroke-width="1.45"/><text transform="translate(443,192.1) scale(0.85,1)">14</text><circle cx="180" cy="339.5" r="8.9" fill="#fff" stroke="#161616" stroke-width="1.45"/><text transform="translate(180,344.6) scale(0.85,1)">19</text><circle cx="620.8" cy="11" r="8.9" fill="#fff" stroke="#161616" stroke-width="1.45"/><text transform="translate(620.8,16.1) scale(0.95,1)">1</text><circle cx="647" cy="69" r="8.9" fill="#fff" stroke="#161616" stroke-width="1.45"/><text transform="translate(647,74.1) scale(0.95,1)">2</text><circle cx="708" cy="152" r="8.9" fill="#fff" stroke="#161616" stroke-width="1.45"/><text transform="translate(708,157.1) scale(0.95,1)">9</text><circle cx="812.8" cy="240" r="8.9" fill="#fff" stroke="#161616" stroke-width="1.45"/><text transform="translate(812.8,245.1) scale(0.95,1)">7</text><circle cx="780.5" cy="268.4" r="8.9" fill="#fff" stroke="#161616" stroke-width="1.45"/><text transform="translate(780.5,273.5) scale(0.95,1)">8</text><circle cx="933.6" cy="296.6" r="8.9" fill="#fff" stroke="#161616" stroke-width="1.45"/><text transform="translate(933.6,301.70000000000005) scale(0.95,1)">3</text><circle cx="880" cy="315" r="8.9" fill="#fff" stroke="#161616" stroke-width="1.45"/><text transform="translate(880,320.1) scale(0.95,1)">6</text><circle cx="928" cy="337" r="8.9" fill="#fff" stroke="#161616" stroke-width="1.45"/><text transform="translate(928,342.1) scale(0.95,1)">5</text><circle cx="977" cy="361" r="8.9" fill="#fff" stroke="#161616" stroke-width="1.45"/><text transform="translate(977,366.1) scale(0.95,1)">4</text><circle cx="727.6" cy="379" r="8.9" fill="#fff" stroke="#161616" stroke-width="1.45"/><text transform="translate(727.6,384.1) scale(0.85,1)">10</text><circle cx="407.6" cy="403.6" r="8.9" fill="#fff" stroke="#161616" stroke-width="1.45"/><text transform="translate(407.6,408.70000000000005) scale(0.85,1)">13</text><circle cx="627.7" cy="510" r="8.9" fill="#fff" stroke="#161616" stroke-width="1.45"/><text transform="translate(627.7,515.1) scale(0.85,1)">12</text><circle cx="582.7" cy="583.8" r="8.9" fill="#fff" stroke="#161616" stroke-width="1.45"/><text transform="translate(582.7,588.9) scale(0.85,1)">11</text></g>
<g font-family="&quot;Liberation Sans&quot;, sans-serif" font-size="11.3" fill="#222"><text x="333" y="563.6" textLength="68.5" lengthAdjust="spacingAndGlyphs">M4×16.5mm</text><text x="428.6" y="542" textLength="68.5" lengthAdjust="spacingAndGlyphs">M4×19.3mm</text></g>
</g>
</svg>
</body></html>
